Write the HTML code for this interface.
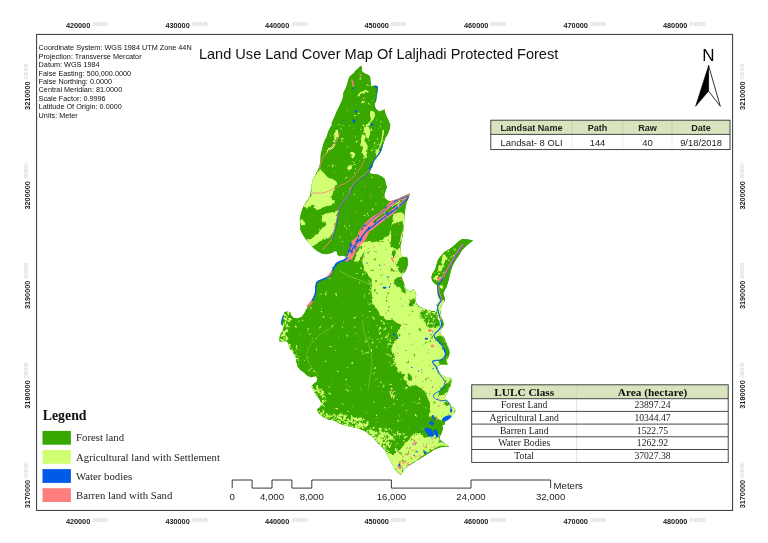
<!DOCTYPE html>
<html lang="en"><head><meta charset="utf-8"><title>Land Use Land Cover Map Of Laljhadi Protected Forest</title>
<style>html,body{margin:0;padding:0;background:#fff}body{width:768px;height:543px;overflow:hidden}svg{display:block}.s{font-family:"Liberation Sans", Arial, sans-serif}.t{font-family:"Liberation Serif", "Times New Roman", serif}.g{font-family:"Liberation Sans", Arial, sans-serif;font-weight:bold;font-size:7.3px;fill:#222}.gd{font-weight:bold;font-size:4.6px;fill:#d4d4d4}</style></head><body>
<svg width="768" height="543" viewBox="0 0 768 543">
<rect width="768" height="543" fill="#fff"/>
<g id="map">
<defs><filter id="rg" x="260" y="50" width="240" height="450" filterUnits="userSpaceOnUse"><feTurbulence type="fractalNoise" baseFrequency="0.22" numOctaves="2" seed="7" result="n"/><feDisplacementMap in="SourceGraphic" in2="n" scale="3.2" xChannelSelector="R" yChannelSelector="G"/></filter><filter id="rg2" x="260" y="50" width="240" height="450" filterUnits="userSpaceOnUse"><feTurbulence type="fractalNoise" baseFrequency="0.3" numOctaves="2" seed="3" result="n"/><feDisplacementMap in="SourceGraphic" in2="n" scale="1.6" xChannelSelector="R" yChannelSelector="G"/></filter><filter id="bl" x="260" y="50" width="240" height="450" filterUnits="userSpaceOnUse"><feGaussianBlur stdDeviation="0.45"/></filter><clipPath id="mc"><polygon points="360.4,66.1 361.7,66.7 361.9,71.3 364.3,73.2 367.5,74.5 370.1,76.5 370.5,81.0 371.0,86.2 374.7,85.6 377.9,86.2 377.9,88.9 377.3,92.8 376.6,96.7 376.2,100.6 375.3,102.5 374.7,105.1 375.3,107.7 377.3,110.3 379.9,111.6 382.5,110.3 384.7,109.4 385.1,112.3 386.4,116.2 388.4,120.1 389.7,123.4 390.3,125.1 389.6,128.9 387.9,134.1 385.3,138.0 384.0,141.9 382.7,145.8 381.4,150.4 379.4,154.3 376.8,157.6 374.2,160.8 372.9,164.1 372.3,167.3 370.3,169.9 370.6,170.0 369.3,173.3 372.6,173.9 377.8,174.6 381.7,176.5 384.9,179.1 385.6,183.0 386.9,186.9 385.6,190.8 384.3,194.7 384.9,198.0 387.5,200.6 390.1,201.2 394.7,199.9 399.9,198.0 405.1,195.4 409.7,193.4 409.0,197.3 407.1,201.2 405.8,205.2 405.1,210.4 404.5,215.6 404.1,220.8 403.8,226.0 403.2,231.2 402.5,236.4 401.5,240.1 402.8,230.0 402.1,235.2 401.5,240.4 400.8,245.6 400.6,250.8 401.5,255.4 404.1,257.3 406.7,256.7 408.0,259.9 407.7,265.2 406.7,269.1 404.7,272.3 402.1,274.3 401.5,276.9 402.8,280.1 404.1,283.4 405.4,287.3 407.3,290.5 410.6,291.2 413.2,289.2 414.9,291.2 416.2,294.5 415.8,297.7 415.2,300.1 416.5,303.3 419.1,306.5 423.0,308.5 426.9,309.8 431.4,311.1 436.0,311.1 437.3,307.8 436.6,304.6 438.6,302.0 440.5,300.0 439.2,299.0 437.9,295.1 437.3,289.9 437.0,285.3 434.7,283.4 432.1,280.8 431.4,276.9 432.7,273.0 435.3,269.1 436.6,264.5 437.9,259.9 441.2,255.4 445.1,251.5 449.7,248.9 454.2,245.6 458.1,241.7 462.0,238.9 468.5,239.4 473.1,240.4 469.8,243.0 465.9,246.3 462.0,250.2 459.4,254.7 456.8,258.6 454.2,262.6 452.3,266.5 451.0,270.4 449.7,274.9 449.0,278.8 447.7,283.4 446.4,287.3 444.5,290.5 443.2,293.8 444.5,297.1 445.1,300.1 442.5,303.9 441.2,307.8 440.5,312.4 441.2,316.9 443.2,321.5 443.8,325.4 441.8,328.6 439.9,331.9 441.2,334.5 443.8,337.1 445.8,341.0 447.1,344.9 449.0,348.8 449.7,353.4 448.4,357.3 446.4,360.5 447.7,364.5 445.1,365.1 439.9,365.1 437.3,366.4 437.9,370.1 439.9,372.6 442.5,375.2 446.4,377.8 451.0,377.8 451.6,380.4 451.0,384.3 449.7,388.2 447.7,392.1 445.8,395.4 444.5,398.6 447.1,400.6 449.7,403.2 451.0,406.5 453.6,407.8 455.5,410.4 454.2,413.0 452.3,414.9 451.0,417.5 447.7,420.1 445.1,421.4 444.5,424.7 442.3,425.2 442.9,429.1 441.6,433.0 439.7,436.9 440.3,440.2 442.9,442.1 446.2,444.1 449.2,446.7 444.9,446.7 440.3,447.3 435.1,449.3 429.9,452.6 424.7,455.8 419.5,459.1 414.3,462.3 409.1,465.6 404.5,468.8 402.6,472.1 401.0,475.3 398.0,472.7 394.7,468.8 392.1,464.3 389.5,459.1 386.9,454.5 385.0,449.9 381.8,447.1 378.5,443.8 375.3,439.9 372.0,436.6 368.1,433.4 364.2,430.8 359.0,428.8 353.8,427.5 348.6,426.2 343.4,424.9 338.2,423.0 334.3,420.4 329.1,419.7 325.8,418.4 321.2,415.8 318.0,412.6 317.3,409.3 320.6,406.7 321.2,402.8 319.3,398.9 316.0,395.0 313.4,390.4 311.5,386.5 314.1,383.3 316.7,381.8 317.3,377.9 315.4,376.0 311.5,377.3 307.6,376.0 304.3,372.7 300.4,370.1 297.8,366.9 296.5,362.3 295.9,357.8 293.9,353.9 292.0,350.6 290.0,349.3 288.0,343.4 286.0,340.8 282.8,341.4 279.5,341.4 279.5,337.5 280.8,333.6 282.8,330.4 283.4,327.1 281.5,323.9 282.1,319.9 283.4,315.4 284.7,312.1 288.0,311.5 290.6,312.8 291.2,315.4 293.9,318.0 297.8,318.6 301.7,316.7 304.3,313.4 306.2,309.5 308.8,305.6 311.4,302.4 313.4,298.5 315.3,293.9 316.0,290.0 315.8,286.5 316.7,282.6 319.3,280.6 323.2,279.3 327.8,277.3 330.4,274.7 332.3,270.8 334.3,266.9 336.2,263.7 339.5,261.7 343.4,260.4 347.3,257.8 343.4,255.5 340.1,256.2 337.5,254.9 336.9,251.6 334.9,251.0 331.7,252.9 326.5,254.2 321.9,253.6 318.0,251.6 314.1,248.4 310.8,245.1 307.6,241.2 305.0,238.0 302.4,234.1 300.2,229.5 300.4,225.6 299.8,221.0 300.2,217.1 301.1,213.2 302.4,209.3 303.7,206.1 305.6,202.8 308.2,198.9 310.4,195.0 310.8,191.2 311.6,185.0 312.9,179.8 315.5,174.6 318.1,169.9 319.7,165.2 320.5,160.0 320.8,154.3 322.1,149.1 323.2,144.5 324.7,140.6 326.7,136.7 328.0,132.2 329.9,128.3 331.9,125.0 331.7,122.7 334.3,117.5 336.3,112.3 338.2,108.4 340.8,103.2 342.8,98.0 343.4,92.8 345.4,89.1 346.7,85.6 348.0,81.0 349.3,77.1 351.9,74.5 354.1,73.0 354.9,71.3 357.8,68.7"/></clipPath></defs>
<g filter="url(#bl)">
<polygon points="360.4,66.1 361.7,66.7 361.9,71.3 364.3,73.2 367.5,74.5 370.1,76.5 370.5,81.0 371.0,86.2 374.7,85.6 377.9,86.2 377.9,88.9 377.3,92.8 376.6,96.7 376.2,100.6 375.3,102.5 374.7,105.1 375.3,107.7 377.3,110.3 379.9,111.6 382.5,110.3 384.7,109.4 385.1,112.3 386.4,116.2 388.4,120.1 389.7,123.4 390.3,125.1 389.6,128.9 387.9,134.1 385.3,138.0 384.0,141.9 382.7,145.8 381.4,150.4 379.4,154.3 376.8,157.6 374.2,160.8 372.9,164.1 372.3,167.3 370.3,169.9 370.6,170.0 369.3,173.3 372.6,173.9 377.8,174.6 381.7,176.5 384.9,179.1 385.6,183.0 386.9,186.9 385.6,190.8 384.3,194.7 384.9,198.0 387.5,200.6 390.1,201.2 394.7,199.9 399.9,198.0 405.1,195.4 409.7,193.4 409.0,197.3 407.1,201.2 405.8,205.2 405.1,210.4 404.5,215.6 404.1,220.8 403.8,226.0 403.2,231.2 402.5,236.4 401.5,240.1 402.8,230.0 402.1,235.2 401.5,240.4 400.8,245.6 400.6,250.8 401.5,255.4 404.1,257.3 406.7,256.7 408.0,259.9 407.7,265.2 406.7,269.1 404.7,272.3 402.1,274.3 401.5,276.9 402.8,280.1 404.1,283.4 405.4,287.3 407.3,290.5 410.6,291.2 413.2,289.2 414.9,291.2 416.2,294.5 415.8,297.7 415.2,300.1 416.5,303.3 419.1,306.5 423.0,308.5 426.9,309.8 431.4,311.1 436.0,311.1 437.3,307.8 436.6,304.6 438.6,302.0 440.5,300.0 439.2,299.0 437.9,295.1 437.3,289.9 437.0,285.3 434.7,283.4 432.1,280.8 431.4,276.9 432.7,273.0 435.3,269.1 436.6,264.5 437.9,259.9 441.2,255.4 445.1,251.5 449.7,248.9 454.2,245.6 458.1,241.7 462.0,238.9 468.5,239.4 473.1,240.4 469.8,243.0 465.9,246.3 462.0,250.2 459.4,254.7 456.8,258.6 454.2,262.6 452.3,266.5 451.0,270.4 449.7,274.9 449.0,278.8 447.7,283.4 446.4,287.3 444.5,290.5 443.2,293.8 444.5,297.1 445.1,300.1 442.5,303.9 441.2,307.8 440.5,312.4 441.2,316.9 443.2,321.5 443.8,325.4 441.8,328.6 439.9,331.9 441.2,334.5 443.8,337.1 445.8,341.0 447.1,344.9 449.0,348.8 449.7,353.4 448.4,357.3 446.4,360.5 447.7,364.5 445.1,365.1 439.9,365.1 437.3,366.4 437.9,370.1 439.9,372.6 442.5,375.2 446.4,377.8 451.0,377.8 451.6,380.4 451.0,384.3 449.7,388.2 447.7,392.1 445.8,395.4 444.5,398.6 447.1,400.6 449.7,403.2 451.0,406.5 453.6,407.8 455.5,410.4 454.2,413.0 452.3,414.9 451.0,417.5 447.7,420.1 445.1,421.4 444.5,424.7 442.3,425.2 442.9,429.1 441.6,433.0 439.7,436.9 440.3,440.2 442.9,442.1 446.2,444.1 449.2,446.7 444.9,446.7 440.3,447.3 435.1,449.3 429.9,452.6 424.7,455.8 419.5,459.1 414.3,462.3 409.1,465.6 404.5,468.8 402.6,472.1 401.0,475.3 398.0,472.7 394.7,468.8 392.1,464.3 389.5,459.1 386.9,454.5 385.0,449.9 381.8,447.1 378.5,443.8 375.3,439.9 372.0,436.6 368.1,433.4 364.2,430.8 359.0,428.8 353.8,427.5 348.6,426.2 343.4,424.9 338.2,423.0 334.3,420.4 329.1,419.7 325.8,418.4 321.2,415.8 318.0,412.6 317.3,409.3 320.6,406.7 321.2,402.8 319.3,398.9 316.0,395.0 313.4,390.4 311.5,386.5 314.1,383.3 316.7,381.8 317.3,377.9 315.4,376.0 311.5,377.3 307.6,376.0 304.3,372.7 300.4,370.1 297.8,366.9 296.5,362.3 295.9,357.8 293.9,353.9 292.0,350.6 290.0,349.3 288.0,343.4 286.0,340.8 282.8,341.4 279.5,341.4 279.5,337.5 280.8,333.6 282.8,330.4 283.4,327.1 281.5,323.9 282.1,319.9 283.4,315.4 284.7,312.1 288.0,311.5 290.6,312.8 291.2,315.4 293.9,318.0 297.8,318.6 301.7,316.7 304.3,313.4 306.2,309.5 308.8,305.6 311.4,302.4 313.4,298.5 315.3,293.9 316.0,290.0 315.8,286.5 316.7,282.6 319.3,280.6 323.2,279.3 327.8,277.3 330.4,274.7 332.3,270.8 334.3,266.9 336.2,263.7 339.5,261.7 343.4,260.4 347.3,257.8 343.4,255.5 340.1,256.2 337.5,254.9 336.9,251.6 334.9,251.0 331.7,252.9 326.5,254.2 321.9,253.6 318.0,251.6 314.1,248.4 310.8,245.1 307.6,241.2 305.0,238.0 302.4,234.1 300.2,229.5 300.4,225.6 299.8,221.0 300.2,217.1 301.1,213.2 302.4,209.3 303.7,206.1 305.6,202.8 308.2,198.9 310.4,195.0 310.8,191.2 311.6,185.0 312.9,179.8 315.5,174.6 318.1,169.9 319.7,165.2 320.5,160.0 320.8,154.3 322.1,149.1 323.2,144.5 324.7,140.6 326.7,136.7 328.0,132.2 329.9,128.3 331.9,125.0 331.7,122.7 334.3,117.5 336.3,112.3 338.2,108.4 340.8,103.2 342.8,98.0 343.4,92.8 345.4,89.1 346.7,85.6 348.0,81.0 349.3,77.1 351.9,74.5 354.1,73.0 354.9,71.3 357.8,68.7" fill="#38a800"/>
<g clip-path="url(#mc)">
<g filter="url(#rg)">
<rect x="250" y="40" width="260" height="470" fill="#38a800"/>
<polygon points="320.2,169.9 322.3,171.5 324.9,174.1 327.0,176.7 329.6,178.2 332.7,179.3 335.3,180.8 336.9,182.4 335.8,185.0 334.3,187.6 334.8,190.2 333.2,192.3 332.2,195.4 330.6,197.0 332.7,199.1 334.8,201.7 334.3,204.3 331.1,205.8 327.5,205.8 323.9,206.9 320.7,208.4 318.1,210.0 315.0,209.5 313.4,207.4 315.0,205.8 312.4,204.8 309.8,205.8 307.2,207.4 304.6,206.9 303.5,205.8 306.1,202.7 308.2,199.6 310.3,195.4 311.4,191.2 311.4,186.0 312.4,180.8 315.0,175.6 317.6,172.0" fill="#d1ff73"/>
<polygon points="322.3,215.6 325.4,213.5 329.6,213.0 333.8,211.5 336.9,210.4 337.4,214.6 336.9,218.8 335.8,222.9 334.3,227.1 333.2,231.2 331.7,234.4 329.6,236.5 326.5,238.0 323.3,239.1 320.2,241.1 317.1,243.2 314.5,245.3 312.4,246.4 309.8,244.8 307.7,241.7 307.2,239.1 310.8,238.0 315.0,235.9 318.1,233.3 320.2,230.2 322.3,228.1 325.4,226.0 326.5,224.0 324.9,222.4 322.3,221.9 321.8,218.8" fill="#d1ff73"/>
<polygon points="300.4,219.8 303.0,219.3 304.6,221.9 304.1,225.0 301.5,225.5 300.4,222.9" fill="#d1ff73"/>
<polygon points="356.2,246.0 361.5,240.8 364.6,242.1 368.8,242.6 374.0,242.1 379.2,241.0 383.3,239.0 387.5,235.8 389.6,232.7 390.6,229.6 391.7,225.4 392.2,221.2 392.7,218.1 393.8,214.5 396.9,212.7 401.0,212.2 403.6,213.8 404.7,215.8 404.5,215.6 404.1,220.8 403.8,226.0 403.2,231.2 402.5,236.4 401.5,240.1 402.8,230.0 402.1,235.2 401.5,240.4 400.8,245.6 400.6,250.8 401.5,255.4 404.1,257.3 406.7,256.7 408.0,259.9 407.7,265.2 406.7,269.1 404.7,272.3 402.1,274.3 401.5,276.9 402.8,280.1 404.1,283.4 405.4,287.3 407.3,290.5 410.6,291.2 413.2,289.2 414.9,291.2 416.2,294.5 415.8,297.7 415.2,300.1 416.5,303.3 419.1,306.5 423.0,308.5 426.9,309.8 431.4,311.1 436.0,311.1 437.3,307.8 436.6,304.6 438.6,302.0 440.5,300.0 443.2,300.0 442.5,303.9 441.2,307.8 440.5,312.4 441.2,316.9 443.2,321.5 443.8,325.4 441.8,328.6 439.9,331.9 441.2,334.5 443.8,337.1 445.8,341.0 447.1,344.9 449.0,348.8 449.7,353.4 448.4,357.3 446.4,360.5 447.7,364.5 445.1,365.1 439.9,365.1 437.3,366.4 437.9,370.1 439.9,372.6 442.5,375.2 446.4,377.8 451.0,377.8 451.6,380.4 451.0,384.3 449.7,388.2 447.7,392.1 445.8,395.4 444.5,398.6 447.1,400.6 449.7,403.2 451.0,406.5 453.6,407.8 455.5,410.4 454.2,413.0 452.3,414.9 451.0,417.5 447.7,420.1 442.5,421.0 438.6,419.2 436.0,417.1 432.1,414.9 430.1,415.8 428.8,414.9 429.5,410.4 430.1,405.2 428.8,400.6 426.9,396.0 424.9,391.5 421.7,388.2 418.4,386.9 415.8,383.7 413.2,385.6 409.9,386.9 406.7,383.7 404.7,379.1 403.4,374.6 399.5,372.6 396.9,370.0 395.6,363.8 394.3,358.6 392.4,353.4 391.1,348.2 393.0,344.3 395.6,340.4 398.2,336.5 396.9,331.2 399.5,329.3 401.5,324.7 398.2,323.4 394.3,321.5 391.1,319.5 387.8,320.2 383.9,318.2 380.0,315.0 377.8,310.1 375.8,307.7 373.2,303.8 371.9,299.9 371.9,294.7 371.2,289.5 371.9,284.9 371.2,280.4 369.3,276.5 366.7,272.6 364.1,268.0 362.8,263.4 362.8,258.2 364.1,253.0 364.7,247.8" fill="#d1ff73"/>
<polygon points="385.2,452.1 389.4,453.2 393.5,454.2 396.7,452.1 399.8,450.0 402.4,446.9 405.0,443.8 407.6,441.2 410.2,438.6 413.3,436.0 416.5,434.4 419.6,433.9 422.7,435.5 425.8,437.5 429.0,437.0 432.1,436.0 435.2,433.9 438.3,434.4 439.9,435.5 438.9,439.6 440.4,441.7 443.5,442.8 446.7,444.3 449.3,446.4 443.5,445.4 439.4,445.9 435.2,448.0 430.0,451.1 424.8,454.2 419.6,457.9 414.4,461.5 409.2,465.1 404.5,468.8 402.4,471.9 401.4,475.6 398.8,473.0 395.6,469.8 392.5,465.7 389.4,459.4 386.2,454.2" fill="#d1ff73"/>
<polygon points="442.5,256.5 445.1,254.9 446.7,257.5 444.6,261.7 442.5,264.3 440.9,262.7" fill="#d1ff73"/>
<polygon points="438.3,266.4 440.9,265.3 442.5,268.4 440.9,271.6 438.3,271.0" fill="#d1ff73"/>
<polygon points="439.4,285.6 442.5,285.1 443.0,288.2 440.4,289.3" fill="#d1ff73"/>
<polygon points="434.2,276.2 436.8,275.2 438.3,277.3 436.8,279.9 434.2,279.4" fill="#d1ff73"/>
<polygon points="370.0,113.5 372.1,111.5 374.2,113.5 375.2,116.7 373.6,119.3 371.0,121.9 369.0,125.0 366.9,128.1 365.3,131.2 364.3,133.3 363.2,132.3 364.8,128.6 366.9,125.0 369.0,121.4 370.5,118.2" fill="#d1ff73"/>
<polygon points="361.7,135.4 363.8,134.4 365.8,136.5 364.8,139.6 363.2,143.8 361.7,146.9 360.1,145.8 361.1,141.7" fill="#d1ff73"/>
<polygon points="382.5,130.2 384.1,131.2 383.5,135.4 382.5,139.6 381.5,143.8 379.9,149.0 378.3,153.1 376.8,155.2 375.7,154.2 377.8,150.0 379.9,144.8 381.5,139.6 382.2,134.4" fill="#d1ff73"/>
<polygon points="335.6,130.2 337.2,129.2 338.2,132.3 337.2,135.9 335.6,139.6 334.6,141.7 333.5,140.1 334.6,135.4" fill="#d1ff73"/>
<polygon points="326.2,151.0 329.4,147.9 332.5,145.8 334.6,143.8 335.6,144.8 333.0,147.9 329.9,150.5 326.8,153.1 324.7,155.2" fill="#d1ff73"/>
<polygon points="357.6,95.6 360.2,92.0 364.4,90.4 368.5,90.9 369.1,93.0 365.9,92.5 362.3,93.5 359.7,96.7" fill="#d1ff73"/>
<polygon points="361.2,102.4 362.8,100.3 364.9,99.8 363.9,101.9 362.1,103.4" fill="#d1ff73"/>
<polygon points="370.1,111.2 372.7,110.7 374.8,113.3 374.3,117.5 371.7,118.8 370.1,115.4" fill="#d1ff73"/>
<polygon points="335.2,132.8 337.8,132.2 339.1,135.4 337.8,138.7 335.4,138.0" fill="#d1ff73"/>
<polygon points="365.1,127.6 369.0,127.0 370.3,131.5 369.0,138.0 366.4,138.7 365.1,132.8" fill="#d1ff73"/>
<polygon points="361.8,141.9 365.1,141.3 367.7,145.8 367.1,152.3 365.8,158.9 363.2,158.2 362.5,151.0" fill="#d1ff73"/>
<polygon points="350.1,152.3 352.7,151.7 355.3,153.4 354.7,157.6 352.3,158.2 350.8,156.0" fill="#d1ff73"/>
<polygon points="348.2,165.4 351.4,164.7 352.1,168.6 350.1,170.8 348.2,169.3" fill="#d1ff73"/>
<polygon points="375.5,149.7 378.8,149.1 380.7,152.3 379.4,156.2 376.8,156.9 375.8,153.0" fill="#d1ff73"/>
<polygon points="354.5,260.4 356.5,254.5 359.7,248.0 363.0,243.5 366.2,241.5 370.2,242.2 374.1,244.8 375.4,247.4 371.5,246.7 367.6,248.0 364.3,251.3 362.3,254.5 361.0,257.8 359.7,261.0 357.1,261.7" fill="#d1ff73"/>
<polygon points="391.4,225.9 396.3,223.1 402.5,221.1 403.2,228.7 401.1,235.6 399.7,242.5 400.4,246.6 396.3,248.7 392.8,248.0 390.7,243.8 391.4,236.9 390.7,231.4" fill="#38a800"/>
<polygon points="392.8,250.7 395.6,250.0 394.9,256.3 392.8,259.0 391.4,254.9" fill="#38a800"/>
<polygon points="399.3,258.5 402.4,257.0 406.0,256.2 407.9,258.0 407.9,262.7 407.3,267.9 405.5,271.6 402.4,273.6 399.8,272.6 398.2,269.5 397.7,266.4 395.6,265.3 395.1,263.8 397.2,262.7 398.8,260.6" fill="#38a800"/>
<polygon points="390.4,271.6 392.5,267.4 394.6,271.6" fill="#38a800"/>
<polygon points="394.1,279.9 396.7,277.8 400.3,276.8 402.4,278.3 403.4,281.5 404.5,285.1 402.4,286.7 404.5,288.8 406.0,291.4 405.0,293.4 402.4,291.9 400.8,289.3 398.2,286.7 395.6,285.1 394.1,282.5" fill="#38a800"/>
<polygon points="389.9,245.0 393.5,245.0 393.0,248.1 390.9,248.6" fill="#38a800"/>
<polygon points="393.0,251.2 395.6,251.8 395.6,254.4 393.0,254.4" fill="#38a800"/>
<polygon points="408.8,298.1 410.8,300.2 414.0,298.1 415.5,300.7 414.5,304.3 412.4,306.4 410.3,307.5 408.2,306.4 409.3,303.3 410.3,301.2" fill="#38a800"/>
<polygon points="419.2,315.3 421.2,312.7 424.4,310.6 428.5,311.6 432.7,312.7 436.9,311.6 437.9,315.8 439.0,320.0 440.0,324.1 439.0,327.2 435.8,328.3 432.7,327.2 430.1,328.3 427.5,326.2 425.4,323.1 423.3,320.0 420.2,317.9" fill="#38a800"/>
<polygon points="418.6,328.3 420.7,328.5 420.7,331.4 419.0,331.2" fill="#38a800"/>
<polygon points="441.8,316.9 443.8,322.1 443.8,326.0 441.8,328.0 441.2,322.1" fill="#38a800"/>
<polygon points="437.9,335.2 441.2,335.8 444.5,339.1 446.4,344.3 449.0,349.5 449.7,353.4 448.4,357.3 445.8,360.5 447.7,364.5 439.9,364.8 437.3,362.5 441.2,359.9 444.5,357.3 445.8,353.4 444.5,348.8 441.2,344.9 437.9,341.7 435.3,338.4" fill="#38a800"/>
<polygon points="441.2,388.2 445.1,384.3 449.0,381.1 451.0,380.4 450.3,385.6 447.7,390.8 444.5,394.1 440.5,395.4 437.9,394.7 437.3,392.8 439.9,390.8" fill="#38a800"/>
<polygon points="443.8,401.2 447.7,401.9 449.7,404.5 447.7,405.8 444.5,404.5" fill="#38a800"/>
<polygon points="406.7,373.3 409.9,373.9 412.6,378.5 411.2,381.1 408.0,379.1 406.7,375.9" fill="#38a800"/>
<path d="M347.0,421.8 347.3,421.1 348.9,420.6 349.3,421.1 349.5,421.9 347.9,422.1zM365.2,425.6 364.9,425.8 364.3,425.7 363.9,424.9 364.6,424.7 365.3,425.1zM380.3,432.3 379.6,432.2 379.1,431.3 379.4,430.5 379.8,430.9 380.6,432.0zM390.7,435.2 390.0,435.7 389.2,435.4 388.8,434.8 389.4,434.3 390.4,434.6zM391.6,439.4 389.9,439.3 389.0,438.4 389.5,437.1 390.9,437.2 391.4,438.2zM340.2,414.4 341.0,413.8 342.7,413.4 342.8,414.0 342.5,415.1 341.3,415.3zM368.7,423.5 367.8,423.9 367.3,423.6 366.9,422.8 367.4,422.5 368.2,422.8zM370.0,432.6 370.2,430.7 371.5,429.9 373.1,430.5 372.6,431.7 371.3,432.8zM378.8,442.5 378.4,441.4 379.2,440.2 380.8,439.9 381.3,440.9 379.4,442.8zM316.8,385.7 316.8,385.2 317.5,385.0 318.1,385.2 317.9,385.7 317.5,385.8zM361.5,428.8 361.7,427.8 362.5,426.9 364.0,427.3 364.1,428.1 362.4,429.4zM388.8,433.3 387.8,433.6 386.2,432.9 386.4,432.0 387.2,431.9 388.5,432.3zM322.6,395.1 322.0,393.8 322.4,392.5 322.8,391.8 323.9,392.4 323.7,394.4zM381.4,446.1 380.3,445.8 379.0,445.0 379.3,444.0 380.6,443.7 381.7,444.5zM390.3,447.2 389.0,447.4 388.5,446.4 388.3,445.5 389.6,445.8 390.1,446.5zM362.3,419.9 362.4,418.9 364.0,418.5 365.0,418.5 364.9,419.7 363.0,420.3zM356.3,419.2 355.6,418.7 356.2,417.9 356.4,417.3 357.1,418.0 356.8,418.9zM325.7,415.1 325.6,414.3 326.4,413.1 327.3,413.3 327.1,414.4 326.2,415.2zM392.7,439.9 391.1,439.4 389.7,437.9 390.2,436.7 391.8,437.2 392.5,438.4zM340.5,415.4 340.2,416.0 338.7,415.8 338.1,415.2 338.8,414.7 340.2,414.8zM325.3,416.0 324.4,416.3 323.5,415.8 323.5,415.0 324.4,414.5 325.4,415.1zM345.1,416.0 346.0,415.3 347.3,415.3 347.3,415.9 346.9,416.4 346.2,416.4zM366.8,423.0 366.0,422.7 366.8,420.4 367.4,420.8 368.1,421.2 367.6,422.7zM356.9,427.4 355.7,427.3 355.6,426.4 355.9,425.1 356.7,425.8 357.1,426.6zM336.8,422.0 336.2,421.1 337.6,419.9 339.2,419.5 339.1,420.9 337.8,421.8zM371.2,431.5 370.5,431.3 369.7,430.5 369.9,429.7 370.8,430.2 371.1,430.9zM388.4,445.1 387.6,445.3 386.8,444.6 386.8,443.5 387.8,443.6 388.4,444.2zM354.7,422.0 354.8,421.2 356.0,421.3 357.6,422.0 357.0,422.6 355.4,423.1zM350.6,420.9 350.5,419.8 351.8,418.5 353.0,418.7 352.7,420.3 351.8,421.3zM315.4,391.2 314.5,391.3 313.9,391.0 313.4,390.2 314.2,389.9 315.3,390.6zM355.4,419.8 354.7,420.0 352.9,418.6 353.3,416.9 354.3,417.3 355.5,418.4zM335.0,420.3 333.2,421.1 332.4,420.4 332.1,419.1 332.8,418.7 334.6,419.7zM357.1,419.8 356.3,420.3 354.4,419.7 354.0,418.4 355.1,418.0 357.2,418.6zM342.9,421.1 342.1,420.9 341.3,419.9 341.6,419.1 342.3,419.5 342.8,420.4zM367.6,432.5 367.0,432.4 366.1,432.0 365.8,431.2 366.7,430.9 367.6,431.4zM366.4,424.9 365.9,425.4 364.5,425.5 364.0,424.6 364.4,424.2 366.1,424.4zM341.4,418.4 340.4,418.7 339.1,418.2 339.0,416.9 339.6,416.5 341.4,417.0zM343.0,415.5 341.3,416.2 339.8,415.4 338.9,413.7 340.7,413.6 342.0,413.9zM342.0,424.2 341.9,423.7 342.6,423.2 343.1,423.3 343.0,423.8 342.4,424.2zM373.0,436.8 372.3,435.7 371.9,433.5 373.1,432.8 374.3,433.4 374.0,435.2zM321.8,415.1 321.0,414.3 321.0,413.4 321.5,412.9 322.5,413.4 322.3,414.7zM384.6,439.8 384.1,440.2 383.5,438.8 384.1,437.6 384.7,438.4 385.3,439.3zM314.5,391.4 314.9,390.4 315.6,389.4 316.1,389.8 316.3,390.3 315.5,391.2zM347.2,420.1 346.8,419.9 346.9,419.1 347.5,418.7 347.8,418.9 347.9,419.8zM357.2,428.8 356.2,428.6 355.7,426.9 356.4,426.2 357.2,426.7 357.6,427.7zM376.6,438.1 375.5,438.1 374.4,437.4 374.4,436.2 375.3,436.5 376.3,437.0zM357.1,421.0 357.0,420.5 357.9,419.6 358.6,419.7 358.8,420.3 357.9,421.0zM380.1,437.2 379.2,437.6 378.3,437.7 378.2,436.7 378.5,436.2 379.5,436.5zM374.3,434.0 373.6,434.4 372.9,433.6 372.9,432.6 373.4,432.6 374.2,433.4zM325.8,397.9 324.5,398.1 323.9,397.1 324.0,396.6 324.9,396.3 325.4,397.0zM373.1,433.0 373.0,432.5 374.0,432.1 374.4,432.5 374.3,432.9 373.8,433.1zM371.6,429.2 370.8,429.5 369.8,428.9 369.7,428.5 370.3,428.3 371.0,428.3zM338.8,417.9 338.3,418.1 337.7,417.3 337.6,416.6 338.1,416.4 338.9,417.4zM326.0,417.1 325.2,415.4 326.1,413.9 327.2,413.7 328.1,414.5 326.9,416.7zM355.6,427.3 354.8,426.9 355.2,425.0 356.6,424.1 357.4,425.7 357.0,426.7zM351.8,422.8 351.2,422.5 350.8,421.7 351.1,421.0 351.5,421.1 352.2,421.8zM319.6,415.3 320.1,413.9 320.5,413.2 321.7,413.4 321.4,414.3 320.5,415.0zM379.7,441.2 379.1,440.2 379.5,439.4 380.3,438.9 380.6,439.4 380.7,440.9zM388.6,450.9 388.4,451.9 386.5,451.2 386.3,450.7 386.8,449.9 388.2,450.2zM377.5,441.7 376.3,441.2 375.7,440.4 376.1,439.8 376.6,439.8 377.4,440.9zM330.4,416.9 329.6,416.7 329.4,416.2 329.4,415.0 330.2,415.2 330.7,416.4zM366.2,427.8 364.8,427.4 363.8,425.6 363.8,424.9 364.8,424.7 366.4,425.8zM337.4,418.6 337.3,419.1 336.0,418.9 335.5,418.4 336.4,417.7 337.3,418.1zM320.8,394.0 319.9,393.8 319.0,392.7 319.3,391.8 320.4,391.9 321.2,393.0zM354.1,422.8 352.9,423.2 351.7,422.6 350.9,421.4 352.2,421.2 353.7,421.6zM358.6,424.2 359.4,423.5 360.4,423.2 360.9,423.6 360.7,424.3 359.5,424.4zM386.9,440.4 386.9,439.5 387.7,438.9 388.9,439.1 388.5,440.3 387.8,440.9zM380.7,437.3 380.3,436.6 380.2,435.4 381.7,434.0 381.9,435.1 382.1,437.1zM383.7,433.6 383.1,434.0 381.8,433.1 381.5,432.0 382.5,432.1 384.0,432.9zM320.8,391.5 321.5,390.3 322.7,390.4 323.3,390.8 323.1,391.7 321.4,392.3zM378.0,443.0 377.5,442.1 377.6,440.5 378.7,440.2 379.4,441.2 379.0,442.0zM364.4,424.5 365.3,423.5 367.4,423.3 367.8,424.2 367.3,425.6 365.4,426.1zM322.6,411.0 322.4,410.2 322.9,409.6 323.9,409.6 323.8,410.1 323.4,410.8zM389.5,444.6 389.2,445.2 387.8,445.1 387.2,444.6 387.8,444.0 388.9,444.0zM343.4,425.7 342.8,424.8 345.3,423.7 346.1,424.1 345.8,425.2 344.3,426.7zM337.2,418.1 336.7,417.1 337.8,415.7 339.1,415.4 339.4,416.2 338.7,417.8zM361.9,424.8 361.1,424.4 360.3,423.6 360.5,422.4 361.5,422.8 362.1,423.6zM387.3,435.4 386.9,435.0 387.4,434.2 387.8,434.0 388.0,434.6 387.8,435.2zM320.5,406.0 320.5,405.1 320.9,404.7 321.7,404.3 321.9,405.2 321.3,405.7zM359.9,420.0 359.1,419.7 358.8,418.1 359.3,417.7 360.0,417.6 360.4,419.2zM346.1,427.1 345.7,426.1 346.2,424.5 347.0,423.3 347.9,424.2 347.5,426.7zM388.2,435.9 388.1,435.5 389.0,435.0 389.7,435.1 389.5,435.9 388.7,436.1zM333.0,418.4 333.5,417.7 334.4,417.4 335.2,417.7 334.5,418.4 334.1,418.8zM381.0,437.6 380.6,437.3 380.7,436.5 381.2,436.1 381.5,436.6 381.5,437.4zM323.1,405.6 321.7,404.8 321.0,403.1 321.5,402.6 322.9,402.6 323.7,404.2zM313.0,391.6 313.0,390.1 314.6,389.6 316.1,390.2 315.2,391.0 313.2,392.5zM331.2,416.9 331.2,416.0 332.0,415.1 332.8,415.3 332.9,416.0 331.9,417.0zM376.5,438.0 375.2,438.0 374.4,436.4 374.7,435.5 376.0,435.8 376.7,437.2zM390.8,448.5 389.0,447.7 388.3,447.0 389.0,445.1 390.4,446.0 390.6,447.1zM317.7,396.5 317.2,396.6 316.7,395.7 317.0,395.1 317.6,395.6 317.7,395.9zM324.1,407.2 323.8,406.3 324.2,405.0 324.7,404.5 325.1,405.8 324.9,406.6zM316.7,394.9 316.3,395.8 314.5,394.7 314.6,393.7 315.1,393.3 316.4,393.9zM350.5,427.0 349.8,426.8 349.2,425.8 349.6,425.0 350.5,425.1 350.7,426.2zM339.7,423.2 339.0,422.8 338.6,420.8 339.8,419.7 340.5,420.2 340.8,422.4zM380.1,439.0 378.8,439.4 377.7,437.8 377.4,436.4 379.0,436.6 379.9,437.6zM377.3,438.2 378.5,437.0 380.3,437.4 380.9,438.3 380.8,439.2 379.0,439.3zM380.4,437.1 380.9,435.5 382.1,434.7 383.0,434.8 383.0,436.2 381.8,437.3zM390.3,437.1 389.8,437.3 389.0,436.0 389.4,435.3 389.9,435.3 390.5,436.2zM317.6,388.2 316.9,387.7 316.3,386.7 316.9,385.8 317.5,385.8 318.2,387.3zM373.3,428.3 372.7,427.7 373.9,426.7 374.4,426.6 374.8,427.6 374.3,428.3zM368.1,425.3 367.4,426.0 366.4,426.2 365.7,425.2 366.6,424.2 367.9,424.6zM322.5,405.1 321.4,405.6 319.9,404.5 320.0,402.9 321.1,402.8 322.4,403.9zM391.2,438.3 390.1,438.0 389.8,436.3 390.4,435.4 391.4,435.7 392.2,437.6zM378.7,442.1 377.7,441.3 377.3,440.3 377.9,439.1 378.9,440.0 379.2,441.1zM366.9,431.1 367.2,430.2 367.9,429.5 368.6,429.8 368.6,431.0 367.8,431.1zM319.9,390.2 320.3,388.9 321.5,387.6 322.3,387.9 322.0,389.4 320.7,390.1zM356.8,425.1 357.0,424.3 358.3,424.3 359.1,424.8 358.2,425.6 357.6,425.5zM384.4,443.6 383.7,443.9 382.5,443.3 382.4,442.1 383.1,442.2 384.4,442.7zM317.9,390.1 317.2,391.2 315.9,391.0 315.0,390.2 315.8,389.4 317.1,389.5zM383.0,436.1 382.7,435.2 383.2,433.8 384.3,433.4 384.9,434.6 384.1,435.4zM381.3,441.6 381.0,440.7 382.2,438.8 383.4,439.1 383.2,440.0 382.1,441.7zM360.7,424.0 360.0,424.0 358.8,423.3 358.5,422.3 359.2,422.3 360.5,422.9zM377.2,433.5 377.2,432.8 377.6,432.3 378.5,432.0 378.3,432.7 377.7,433.3zM362.4,425.4 362.9,424.9 363.5,424.9 364.2,425.1 363.7,425.6 362.6,425.8zM378.8,431.2 379.6,430.3 380.5,430.2 381.7,431.0 381.0,431.6 379.2,431.8zM326.1,418.8 325.3,418.6 325.0,416.9 325.9,416.2 327.2,416.5 327.1,418.5zM374.8,432.7 374.2,433.3 372.2,433.2 372.2,432.6 373.0,431.5 374.4,432.2zM342.4,420.5 342.7,419.9 343.8,419.9 344.2,420.1 343.9,420.8 342.8,421.0zM382.9,436.5 381.6,436.9 379.0,435.9 378.8,434.7 380.9,434.2 382.6,434.9zM323.0,411.5 322.7,411.1 322.7,410.4 323.3,410.0 323.9,410.6 323.6,411.3zM317.6,390.3 316.9,390.9 315.7,390.5 315.3,389.8 315.7,389.5 316.6,389.4zM353.9,418.4 353.1,418.8 352.5,418.6 351.9,417.9 352.4,417.4 353.5,417.8zM323.2,413.6 322.3,412.9 323.1,411.6 324.3,410.8 324.5,411.6 324.0,413.7zM385.4,437.8 385.0,438.1 384.2,437.5 383.9,436.8 384.9,436.7 385.4,437.1zM386.4,437.6 385.3,438.6 384.4,438.3 383.9,437.5 384.6,436.6 385.6,436.9zM368.4,433.7 367.7,433.3 367.7,432.6 368.0,432.3 368.7,432.7 368.8,433.2zM358.6,426.2 359.0,425.1 360.1,424.2 361.3,424.1 361.2,425.2 359.8,426.5zM341.0,416.2 340.2,416.2 339.2,415.7 339.4,415.1 340.0,415.0 341.1,415.6zM319.5,390.5 318.8,390.1 318.7,389.1 319.1,388.5 319.7,389.2 320.0,389.9zM366.7,423.2 366.4,422.3 368.0,421.0 368.8,421.2 368.6,422.4 367.2,423.4zM381.9,437.9 381.1,438.7 379.4,438.9 379.0,438.1 379.7,437.6 380.9,437.5zM322.8,398.5 321.9,397.1 321.7,396.1 323.0,395.7 323.7,396.3 323.1,397.6zM322.4,395.8 321.6,395.8 320.0,394.9 319.9,393.0 321.2,393.2 322.5,394.4zM389.2,440.6 388.9,441.1 387.4,440.9 387.3,440.5 387.3,439.9 388.7,439.8zM374.8,434.6 373.7,434.3 372.9,433.2 373.2,432.3 374.4,433.0 374.9,434.0zM381.0,431.0 380.3,431.0 378.7,430.2 378.5,428.5 379.9,428.9 381.0,429.3zM317.1,388.1 316.3,387.4 315.8,386.2 316.3,385.5 316.9,386.0 317.4,387.0zM348.5,419.4 348.0,419.7 347.0,419.6 346.6,419.0 347.4,418.6 348.1,418.8zM354.6,424.0 353.8,423.4 353.9,421.6 354.7,421.2 356.1,421.7 355.9,423.5zM384.9,447.6 384.1,447.9 382.7,447.6 382.3,446.7 383.5,446.1 384.8,446.9zM313.9,390.3 313.3,390.5 311.5,389.4 312.0,388.8 313.4,388.2 314.3,389.4zM372.2,436.9 371.7,436.4 371.5,435.3 372.2,434.8 373.1,435.4 372.8,436.6zM380.2,440.4 380.1,439.5 380.0,439.0 380.8,438.4 381.1,439.3 380.9,440.0zM383.8,433.5 383.9,432.4 384.6,432.1 385.6,432.0 385.6,432.7 384.7,433.7zM387.7,429.7 386.4,430.4 385.2,430.2 384.5,429.4 385.0,428.2 386.9,428.7zM360.6,427.4 360.6,426.3 362.2,425.8 363.1,426.4 362.1,427.6 360.9,427.9zM335.1,417.4 334.7,417.1 334.7,415.8 335.4,415.5 336.0,416.3 335.7,416.9zM363.7,425.3 362.2,425.7 361.3,425.5 360.8,424.1 361.6,423.2 363.5,423.9zM385.2,447.3 384.1,447.3 382.8,446.0 382.7,444.9 383.4,444.6 385.1,445.8zM370.9,432.6 369.9,432.2 368.8,431.1 369.1,429.7 370.4,430.2 371.5,431.0zM360.4,426.0 360.7,425.5 361.8,425.1 362.7,425.5 362.2,426.3 360.9,426.3zM385.9,447.4 385.6,446.9 385.4,446.1 386.1,445.7 386.4,446.0 386.4,446.9zM355.5,421.1 355.2,420.3 356.2,418.7 357.6,418.2 357.6,419.8 357.2,421.3zM381.5,445.3 379.8,444.2 379.6,443.5 379.6,441.6 381.3,442.4 381.9,443.6zM321.9,394.0 321.8,393.1 321.9,391.7 322.8,390.7 323.8,392.0 323.3,393.5zM378.8,440.4 378.8,439.7 379.7,439.2 380.4,439.2 380.1,440.3 379.1,440.9zM316.6,412.4 317.1,411.6 318.5,410.6 319.0,411.1 318.9,412.0 318.1,412.6zM323.1,402.8 323.5,402.1 324.7,400.9 325.9,401.7 325.3,402.3 324.2,403.1zM386.8,435.5 385.7,435.7 384.3,434.1 384.5,433.0 385.9,433.4 386.7,434.5zM385.3,441.0 386.1,439.4 387.5,438.7 388.8,439.1 388.8,440.5 386.9,441.0zM355.4,420.0 355.2,419.0 355.4,418.0 356.8,417.1 357.0,418.1 356.5,419.5zM363.3,425.3 362.8,424.7 363.2,423.5 364.5,422.8 364.7,424.0 364.0,425.2zM372.5,433.6 371.0,433.7 370.3,432.7 369.5,431.7 371.3,431.1 372.7,432.3zM362.6,422.1 362.2,420.8 363.1,419.6 363.6,419.5 363.9,420.5 363.2,421.7zM348.5,422.2 349.0,420.8 350.0,419.8 350.9,419.9 350.8,421.2 350.0,421.9zM377.4,439.4 376.5,439.9 374.8,438.4 374.5,436.9 376.0,436.5 377.5,438.1zM358.0,420.5 357.5,420.1 357.9,418.7 358.8,417.8 359.1,418.3 359.3,420.0zM313.1,388.2 312.1,387.7 311.4,386.4 311.8,386.0 312.7,386.2 313.5,387.4zM327.1,417.3 327.1,416.8 327.9,416.0 328.7,416.1 328.6,417.1 327.4,417.6zM346.7,421.1 346.8,420.0 347.2,419.0 348.6,418.5 349.3,419.6 348.0,421.4zM361.4,419.5 360.7,419.8 359.9,419.3 360.0,418.7 360.7,418.6 361.5,419.1zM378.3,437.0 378.0,436.1 378.7,435.0 379.6,435.0 379.8,435.7 379.0,437.3zM372.8,439.9 372.8,438.5 374.1,437.1 375.2,437.2 375.0,438.4 374.3,439.8zM384.1,450.7 384.2,449.8 385.3,448.8 386.1,449.1 385.8,449.7 385.1,450.4zM324.5,401.1 323.7,401.9 321.9,401.3 321.9,400.4 322.2,399.9 324.1,400.1zM340.8,423.2 340.4,423.8 339.3,423.3 339.1,422.4 339.7,422.0 340.9,422.6zM381.5,432.0 382.2,431.1 383.2,430.4 384.2,430.9 383.9,431.9 382.8,432.7zM317.9,393.9 317.4,393.3 317.1,392.5 317.9,391.5 318.4,392.1 318.4,393.3zM347.5,426.6 346.6,426.1 346.0,424.6 346.4,423.9 347.5,424.4 348.3,425.6zM326.5,418.8 326.0,418.5 325.7,417.5 326.0,416.8 326.7,417.4 326.8,418.7zM363.0,427.1 362.8,427.4 361.1,427.1 361.2,426.7 361.9,425.9 362.8,426.4zM390.2,446.3 389.8,445.6 390.0,444.7 390.6,444.5 391.1,445.1 390.9,446.1zM335.2,415.8 334.2,415.8 333.2,415.2 333.4,413.5 334.3,413.4 335.5,415.0zM386.4,439.2 385.8,439.3 386.0,438.0 386.8,437.4 387.2,438.1 386.8,439.1zM319.7,389.5 318.3,389.4 316.7,389.1 316.3,388.0 317.5,387.7 318.5,388.0zM356.8,427.4 356.5,427.8 355.0,427.1 355.3,426.5 355.6,426.2 356.8,426.8zM386.8,445.7 385.8,444.3 386.0,442.9 386.5,442.3 387.5,442.5 387.7,444.4zM384.2,434.4 384.2,433.0 385.2,431.7 386.4,431.9 386.7,432.4 385.9,434.0zM361.1,426.7 360.6,426.0 360.6,424.2 361.6,424.2 362.0,424.4 362.2,426.2zM328.1,417.0 329.4,415.9 330.6,415.5 331.6,415.9 330.9,416.8 329.0,417.6zM325.5,401.8 324.7,401.3 325.0,400.5 326.0,400.0 326.4,400.5 326.3,401.5zM374.8,434.5 374.4,434.8 373.7,433.1 373.8,432.5 375.0,432.8 375.2,433.9zM358.6,425.9 358.7,424.8 360.6,423.9 361.4,424.8 360.8,425.9 359.8,426.4zM354.9,428.2 355.3,427.4 356.0,427.3 357.1,427.6 356.7,428.5 355.4,428.7zM378.7,430.6 378.7,429.8 379.9,429.4 380.0,429.8 380.0,430.4 379.4,430.7zM321.4,414.2 320.6,414.0 319.5,413.1 320.0,412.7 320.4,412.5 321.6,413.2zM375.8,434.4 375.7,433.9 376.0,433.3 376.8,433.1 376.9,433.7 376.5,434.3zM390.5,440.1 390.0,439.6 389.8,438.8 390.2,438.4 390.8,438.7 391.0,439.6zM375.6,433.9 374.8,432.8 375.1,432.0 376.1,431.5 376.7,431.6 376.3,433.5zM370.4,433.8 369.6,432.8 369.2,431.0 370.3,429.3 371.5,430.9 371.4,433.0zM346.1,417.1 345.6,417.9 343.4,417.6 343.1,416.1 344.0,415.8 346.0,416.2zM352.4,419.2 351.0,418.6 350.6,417.5 351.1,416.0 352.2,416.4 352.8,418.6zM337.1,422.8 336.6,421.7 336.7,420.9 337.6,420.6 338.2,420.9 337.6,422.8zM364.3,426.5 364.2,426.0 365.1,425.7 365.5,426.0 365.2,426.6 364.4,426.8zM318.4,393.3 317.7,391.8 317.9,390.6 318.7,389.9 319.3,390.3 319.6,392.0zM321.9,397.5 322.2,396.6 322.9,396.6 323.5,396.8 323.1,397.5 322.2,397.7zM388.2,435.8 387.2,435.9 386.6,434.9 386.4,434.1 387.2,433.6 388.8,435.0zM374.0,433.8 375.4,432.7 377.2,432.6 377.4,433.9 377.4,434.5 375.1,434.4zM381.6,435.5 381.1,435.9 380.1,435.4 380.2,434.5 380.7,434.3 381.5,435.0zM324.2,399.5 324.0,398.9 325.0,398.5 325.4,398.6 325.3,399.2 324.8,399.5zM343.3,419.5 342.7,418.6 344.4,417.5 345.8,418.2 345.5,419.0 343.9,420.2zM351.6,428.1 351.1,427.0 352.2,425.8 352.9,425.7 353.2,426.9 352.7,428.1zM368.0,423.9 367.3,424.7 365.5,424.3 365.3,423.5 365.7,422.9 367.2,423.1zM357.8,429.2 357.0,427.9 357.3,426.4 358.5,426.2 359.7,426.9 358.8,429.2zM361.9,419.1 361.0,419.1 360.4,418.0 360.6,417.4 361.5,417.5 362.0,418.1zM360.7,421.5 360.0,420.4 360.5,419.0 361.1,418.9 361.6,419.1 361.5,420.7zM349.1,424.0 347.8,424.3 345.9,423.1 345.9,421.3 347.1,421.6 348.8,423.1zM341.4,420.3 340.8,420.2 340.2,419.0 340.7,418.3 341.3,418.2 341.7,419.4zM335.9,421.3 335.4,420.9 335.9,419.7 336.3,419.8 336.7,420.5 336.3,421.4zM381.7,436.4 380.4,436.0 380.5,434.5 381.2,434.1 381.9,434.3 382.3,435.7zM373.9,428.8 373.2,429.0 372.3,428.0 372.6,427.6 373.3,427.7 373.8,428.3zM360.4,424.6 359.5,424.7 358.4,422.5 358.9,421.3 360.1,422.1 361.1,424.0zM368.3,423.3 367.8,423.5 366.5,422.9 366.8,421.8 367.7,421.3 368.2,422.2zM343.2,422.2 343.9,421.2 345.0,421.2 346.3,421.4 345.2,422.5 344.1,422.9zM354.4,428.1 354.9,427.2 355.9,426.7 356.3,427.1 356.0,428.1 355.2,428.5zM360.3,419.4 359.8,418.8 360.5,417.6 361.1,418.0 361.6,418.3 361.2,419.4zM385.6,432.2 384.3,433.4 383.2,433.3 382.3,432.2 382.4,431.2 384.4,431.5zM379.9,440.2 378.8,440.5 378.2,439.8 377.7,438.5 378.9,438.9 380.0,439.5zM365.8,432.4 366.3,432.0 367.3,431.7 367.7,432.3 367.0,433.1 366.1,433.0zM380.0,433.2 379.5,432.5 380.4,431.5 381.5,431.6 381.5,432.6 381.0,433.3z" fill="#d1ff73"/>
<path d="M288.5,344.6 288.0,344.1 288.7,343.1 289.3,343.0 289.5,343.5 289.2,344.4zM285.4,332.2 285.7,331.5 286.5,330.9 286.7,331.2 286.7,331.7 286.0,332.1zM287.1,333.2 286.3,332.6 287.1,331.2 287.6,331.2 288.3,332.0 287.9,332.8zM285.6,337.8 285.7,336.6 286.6,336.0 287.8,335.9 287.7,336.8 286.7,337.7zM283.8,327.8 282.7,327.2 282.8,325.2 283.6,323.7 284.2,324.6 284.4,326.6zM298.8,361.2 298.2,360.5 298.3,359.9 298.7,359.4 299.2,359.6 299.0,360.7zM289.1,346.4 288.8,345.6 289.2,345.0 290.1,345.0 290.5,345.5 289.7,346.4zM296.4,359.4 296.7,358.2 297.4,357.7 298.4,357.7 298.6,358.2 297.2,359.6zM287.3,318.0 286.6,317.6 286.2,316.9 286.6,315.9 287.1,316.1 287.8,317.0zM287.8,321.7 287.7,320.7 287.9,320.1 288.6,319.8 289.2,320.4 288.5,321.6zM282.3,336.0 281.5,334.7 282.0,333.7 283.3,333.2 283.9,334.2 283.0,335.9zM286.3,319.2 285.4,319.4 284.4,318.5 284.3,317.7 285.7,317.9 286.4,318.3zM287.7,331.3 287.3,331.2 286.7,329.8 286.8,329.3 288.1,329.8 288.4,330.7zM283.9,319.7 284.3,318.6 285.4,317.9 287.0,317.8 286.5,319.0 285.4,319.7zM286.9,337.7 286.9,336.9 287.8,336.1 288.2,336.2 288.5,337.0 287.6,337.7zM288.0,322.8 288.1,322.2 288.9,321.0 289.9,321.4 289.5,322.4 289.0,323.1zM284.9,331.1 285.1,329.9 286.4,329.5 287.8,329.7 287.6,330.8 285.3,331.9zM285.6,332.7 284.9,333.3 283.5,332.7 283.2,332.0 284.4,331.4 285.4,331.8zM283.7,331.9 282.8,332.0 282.1,331.6 282.0,330.8 282.9,330.8 283.6,331.4zM283.8,334.2 282.6,334.4 281.7,333.1 282.2,331.9 283.3,332.4 283.9,333.3zM283.3,338.4 283.4,337.4 284.0,336.9 285.3,336.5 285.4,337.3 284.1,338.3zM285.9,325.2 285.5,325.1 285.0,324.5 285.4,323.8 286.1,324.0 286.1,324.7zM295.3,356.2 295.8,355.2 296.9,355.0 297.6,355.6 296.7,356.5 295.9,356.6zM288.2,331.8 286.9,332.7 285.5,332.1 285.1,330.9 286.4,330.6 287.8,330.9zM282.4,332.8 282.6,331.4 284.1,330.7 284.7,331.0 284.7,331.7 283.4,332.7zM297.1,359.9 296.3,360.2 295.2,359.2 295.6,358.5 296.4,358.5 296.9,359.0zM281.6,336.8 280.8,336.6 280.8,335.2 281.2,334.8 281.8,335.4 282.3,336.1zM282.7,318.2 283.2,317.5 284.2,317.5 284.5,317.8 283.9,318.3 282.9,318.5zM284.6,322.9 283.6,323.3 282.9,323.0 282.6,322.4 283.4,322.0 284.1,322.4zM283.1,335.7 282.5,335.6 282.1,334.5 282.7,333.9 283.2,334.3 283.6,335.1zM290.8,321.1 289.7,321.0 289.3,319.8 289.0,318.9 290.5,319.2 290.9,320.4zM285.8,339.4 285.1,339.7 283.3,338.2 283.9,337.5 284.5,337.1 285.7,338.3zM285.5,323.8 285.0,323.2 284.1,321.6 285.3,321.0 286.2,320.8 286.2,322.4zM281.5,342.3 281.3,340.9 283.2,339.1 283.6,339.7 284.2,341.0 283.1,342.0zM291.6,354.0 292.3,353.3 293.3,353.1 294.0,353.4 293.5,354.4 292.6,354.4zM286.8,327.8 286.4,327.5 287.3,326.6 287.7,326.5 287.9,327.1 287.5,327.7zM286.6,316.0 284.8,316.3 284.0,315.5 283.3,314.0 284.6,314.1 286.0,314.7zM289.7,319.3 289.3,319.6 288.3,319.1 288.1,318.3 288.9,317.7 290.1,318.6zM282.8,333.1 282.3,332.8 282.4,332.1 282.6,331.4 283.2,332.0 283.3,332.8zM284.2,336.5 283.3,336.3 283.2,334.8 284.4,334.0 284.9,334.4 284.8,336.0zM287.3,345.8 287.6,344.4 290.0,344.1 291.0,344.7 290.4,345.7 288.6,346.2zM291.9,320.0 290.5,320.3 289.2,319.2 288.5,318.1 289.9,318.1 291.2,318.4zM282.7,324.2 283.0,323.4 284.1,323.3 284.3,323.8 284.1,324.3 283.1,324.5zM283.8,325.7 283.6,325.5 283.3,324.5 283.9,324.3 284.5,324.7 284.4,325.4zM287.1,319.6 286.2,320.3 284.7,319.9 284.2,319.1 284.7,318.3 286.7,318.5zM285.7,340.4 285.3,339.2 286.9,337.8 288.2,338.5 288.0,339.8 287.0,340.3zM286.3,328.2 285.7,327.0 287.3,325.1 288.1,325.6 288.1,326.8 287.4,328.2zM284.2,336.4 283.8,335.2 284.3,334.4 285.7,334.2 285.6,335.4 285.3,336.3zM285.6,319.0 284.6,319.2 283.7,318.5 282.9,317.4 284.2,317.0 285.4,317.6zM287.2,327.4 287.8,326.6 289.0,326.1 289.8,326.5 289.7,327.3 288.0,327.8zM282.3,340.7 281.4,340.7 280.2,340.1 280.3,338.6 281.6,338.9 282.4,339.2zM287.2,326.6 286.2,326.4 286.2,325.2 286.9,324.4 287.7,324.7 287.8,325.9zM288.7,343.5 288.0,343.9 286.9,342.8 286.9,342.2 287.8,342.1 288.5,343.0zM295.0,356.8 294.2,356.3 293.7,355.6 294.1,354.4 294.8,355.2 295.2,356.4zM294.4,355.9 294.8,355.1 295.5,354.5 296.4,354.9 296.2,355.8 295.0,356.3zM288.7,314.9 287.5,314.4 287.3,312.2 288.3,311.2 289.4,311.8 289.5,314.4zM291.8,351.7 291.2,351.0 291.1,350.0 292.0,349.2 292.5,350.2 292.6,351.3zM294.8,355.8 294.0,355.7 293.1,354.5 293.2,353.9 294.2,353.8 294.8,355.1zM286.1,331.8 286.2,331.2 286.9,331.0 287.5,331.2 287.2,331.7 286.4,332.1zM281.8,337.0 281.2,336.3 281.0,335.5 281.7,335.2 282.5,335.7 282.4,336.4z" fill="#d1ff73"/>
<path d="M377.5,347.6 376.8,347.5 376.1,347.1 376.1,346.2 376.8,346.2 377.2,346.6zM355.8,273.6 355.9,273.1 356.9,272.9 357.4,273.2 357.0,273.6 356.3,273.8zM394.1,405.1 393.6,404.2 393.9,403.1 394.4,403.1 394.8,403.7 394.4,404.9zM356.4,350.4 355.7,349.7 356.0,348.9 356.5,348.0 357.1,348.7 356.8,349.7zM382.3,387.1 383.2,385.9 384.4,385.7 384.7,386.2 384.2,387.0 383.7,387.5zM321.9,309.0 321.3,308.9 321.3,308.3 321.4,307.8 321.9,308.1 322.0,308.6zM405.5,411.0 406.0,410.3 406.6,410.1 407.0,410.5 407.1,411.1 406.4,411.3zM377.8,422.9 377.7,422.1 377.7,421.8 378.1,421.4 378.5,421.6 378.2,422.4zM362.7,316.0 362.3,315.9 362.4,315.3 362.7,314.7 363.1,315.2 363.0,315.6zM321.2,391.1 320.8,391.0 320.5,390.7 320.8,390.4 321.0,390.4 321.4,390.9zM329.4,392.3 328.8,391.4 328.7,390.8 329.2,390.6 329.8,390.6 329.7,391.9zM378.1,340.1 377.8,339.9 377.6,339.1 378.3,338.6 378.5,339.1 378.5,339.8zM296.3,348.1 295.8,347.4 295.8,346.2 296.5,345.8 297.1,346.1 297.1,347.4zM329.8,313.4 329.4,313.5 329.3,312.7 329.3,312.3 329.8,312.7 330.1,313.1zM313.6,371.4 313.1,371.4 312.8,370.8 312.7,370.3 313.1,370.0 313.7,370.6zM421.4,392.2 420.7,392.8 420.2,392.9 419.7,392.4 420.0,391.7 420.8,392.0zM399.6,416.6 399.3,416.3 399.3,415.7 399.7,415.5 399.9,415.8 399.9,416.3zM393.5,403.7 393.1,403.7 392.7,403.4 392.6,403.1 392.9,403.0 393.4,403.4zM293.7,353.8 293.4,353.6 293.8,352.9 294.1,352.9 294.3,353.4 294.0,353.8zM391.1,356.1 390.8,356.7 389.6,356.3 389.2,355.6 389.6,355.1 391.3,355.6zM397.2,433.4 396.6,432.6 397.2,431.8 397.6,431.1 398.4,431.8 398.0,433.0zM396.6,399.8 396.6,399.3 397.5,399.0 397.7,399.2 397.8,399.7 397.2,400.0zM345.2,380.0 345.2,379.4 346.0,378.8 346.7,378.8 347.0,379.3 345.9,380.4zM391.0,397.7 391.2,397.2 392.1,397.1 392.2,397.5 391.9,398.1 391.3,397.9zM338.1,417.8 337.6,417.3 337.6,416.3 338.0,416.2 338.6,416.6 338.4,417.4zM408.3,430.1 407.9,430.3 407.3,430.1 407.2,429.8 407.5,429.4 408.1,429.5zM333.2,381.5 332.7,381.5 332.4,381.1 332.8,380.7 333.2,380.8 333.4,381.3zM377.1,379.2 376.7,378.9 376.3,378.3 376.4,377.8 377.1,378.0 377.4,378.6zM297.6,349.4 296.9,349.6 296.2,349.3 295.6,348.3 296.4,348.4 297.3,348.8zM343.8,404.2 343.4,404.5 342.7,404.0 342.2,403.0 343.1,402.9 343.7,403.4zM337.1,408.8 336.5,409.0 335.7,408.8 335.3,408.3 335.9,408.0 336.5,408.1zM381.4,383.3 380.8,383.3 380.1,382.0 380.5,381.7 381.2,381.6 381.6,382.7zM345.8,390.3 345.5,389.9 345.8,389.1 346.4,388.6 346.6,389.4 346.4,389.9zM378.5,341.5 378.2,340.9 379.0,340.3 379.7,340.1 379.4,341.1 379.0,341.7zM308.2,330.6 307.9,330.0 308.3,329.2 308.8,329.2 308.9,329.9 308.6,330.4zM347.2,384.5 346.9,384.5 346.4,384.1 346.4,383.7 346.8,383.7 347.2,384.1zM388.4,334.3 387.4,334.2 387.4,333.0 387.7,332.6 388.5,332.8 388.6,333.6zM377.0,415.9 376.4,416.1 375.8,415.4 375.8,414.6 376.4,414.5 377.3,415.6zM321.1,295.0 320.5,294.3 320.3,293.6 320.5,292.5 321.3,293.4 321.8,294.5zM350.7,390.4 350.8,389.7 351.2,389.5 351.9,389.5 351.8,389.9 351.4,390.4zM328.9,279.7 328.6,278.6 329.0,278.0 329.6,277.8 330.0,278.3 329.5,279.1zM307.7,333.6 307.3,333.6 307.0,333.1 306.9,332.6 307.3,332.6 307.8,333.2zM352.6,406.5 352.5,405.9 353.0,405.1 353.5,405.1 353.5,405.9 353.1,406.3zM393.5,336.3 393.1,335.8 393.2,335.3 393.7,335.0 394.0,335.2 393.9,335.9zM426.3,408.4 425.6,408.3 425.0,407.8 425.1,407.5 425.6,407.3 426.4,407.9zM370.3,430.6 369.9,430.9 369.0,430.9 369.0,430.5 369.2,430.0 370.0,430.1zM308.6,371.3 308.6,370.1 309.3,369.3 309.7,369.4 309.9,370.3 309.5,370.7zM310.8,369.3 310.5,368.6 310.9,367.9 311.4,367.8 311.6,368.2 311.5,368.9zM364.2,411.2 363.8,411.0 363.9,410.5 364.1,410.2 364.4,410.5 364.5,411.0zM402.0,404.3 402.1,403.7 403.5,403.2 404.0,403.5 403.7,404.3 402.6,404.8zM336.3,409.8 336.4,409.3 336.9,408.6 337.4,408.8 337.5,409.4 336.9,409.6zM303.7,360.5 304.1,360.1 304.7,359.9 304.9,360.4 304.6,360.7 303.9,360.9zM356.5,334.4 356.0,334.4 355.5,334.1 355.5,333.5 356.1,333.7 356.4,333.9zM355.2,328.1 354.8,328.0 354.2,327.3 354.4,326.6 354.9,326.7 355.5,327.6zM368.6,304.9 368.5,304.5 368.7,304.2 368.9,304.1 369.1,304.5 369.0,304.9zM384.7,408.5 384.8,407.9 385.5,407.3 385.9,407.4 385.8,407.9 385.3,408.5zM307.9,357.6 307.8,357.4 307.6,356.7 307.9,356.3 308.3,356.9 308.4,357.7zM303.4,321.3 302.6,321.3 302.1,320.0 302.6,319.1 303.6,319.8 303.9,320.7zM368.2,332.8 367.8,332.4 368.3,331.8 368.7,331.7 368.9,332.1 368.5,332.8zM289.1,347.5 289.8,346.7 290.3,346.6 291.5,347.0 291.0,347.6 289.6,347.9zM347.8,391.8 347.0,390.8 347.1,389.8 347.7,389.6 348.5,390.0 348.4,391.2zM295.5,327.7 295.0,327.0 295.4,325.6 295.8,325.3 296.4,325.8 296.4,327.0zM386.5,436.9 385.9,437.2 385.0,437.4 384.5,436.5 384.9,436.1 386.1,436.5zM397.1,421.4 397.7,420.9 398.5,420.9 399.0,421.6 398.5,421.7 397.6,421.9zM366.3,342.3 365.6,342.3 364.9,341.2 364.9,340.6 365.9,340.8 366.4,341.5zM328.7,347.6 328.9,346.8 329.6,346.2 330.6,346.3 330.5,347.2 329.6,347.8zM300.1,321.4 299.1,321.6 298.4,321.2 298.4,320.3 299.2,320.2 299.7,320.7zM338.0,306.1 338.1,305.7 338.5,305.6 338.9,305.6 338.8,306.0 338.4,306.2zM325.2,361.7 324.3,361.9 323.7,361.1 323.8,360.5 324.2,360.4 325.4,361.2zM382.5,392.0 382.4,392.1 381.9,392.1 381.7,391.7 382.1,391.6 382.4,391.6zM373.0,339.7 372.1,339.2 372.2,338.6 372.4,337.8 372.9,337.9 373.3,339.0zM417.2,415.3 416.2,415.8 415.3,415.1 414.6,414.2 415.6,413.8 416.7,414.5zM336.4,297.6 335.9,296.9 335.8,295.5 336.2,294.8 337.0,295.3 336.9,296.9zM323.4,318.0 322.7,317.1 322.8,316.0 323.3,316.0 324.3,316.5 323.9,317.7zM299.4,356.6 298.9,356.9 298.5,356.7 298.2,356.4 298.7,356.1 299.3,356.3zM368.7,311.7 369.5,311.0 370.6,311.0 370.9,311.5 370.2,312.0 369.5,312.2zM387.5,335.5 387.5,335.1 388.1,334.6 388.6,334.6 388.5,335.2 388.1,335.8zM295.3,350.3 295.5,350.1 295.9,350.1 296.2,350.3 296.1,350.6 295.7,350.7zM373.6,343.7 372.7,343.7 371.6,342.6 371.7,342.0 372.5,341.6 373.7,342.6zM414.8,402.7 414.4,402.9 413.8,402.4 413.6,401.8 414.3,402.0 414.7,402.3zM374.7,437.1 374.5,437.3 374.0,437.2 373.7,437.0 374.2,436.7 374.7,436.7zM320.4,311.8 320.8,311.3 321.8,310.9 322.1,311.1 322.4,312.0 321.4,312.2zM323.4,392.4 323.1,392.0 322.6,391.5 322.9,391.3 323.4,391.2 323.5,391.7zM364.8,270.3 364.7,270.5 364.2,270.4 363.9,270.0 364.2,269.8 364.9,270.0zM293.8,351.5 292.8,352.3 291.9,352.0 291.1,351.5 292.0,351.0 293.3,351.1zM382.0,443.0 382.1,442.3 382.2,441.8 382.7,441.7 383.2,442.0 382.9,442.8zM367.8,325.2 368.0,324.9 368.6,324.7 369.0,324.8 368.9,325.2 368.5,325.3zM309.7,334.3 309.8,333.4 310.3,333.2 311.1,333.0 311.1,333.7 310.3,334.2zM397.2,434.5 397.1,433.9 397.7,433.7 398.3,433.7 398.4,434.4 397.5,434.9zM312.9,338.9 312.9,338.6 313.2,338.1 313.6,338.1 313.7,338.3 313.4,338.9zM369.4,291.2 369.3,290.8 370.1,289.6 370.8,289.9 371.0,290.5 370.2,291.4zM351.0,422.5 350.9,422.2 351.1,421.5 351.5,421.4 351.6,421.5 351.5,422.4zM393.8,440.7 393.4,440.3 394.5,439.5 395.0,439.9 394.7,440.4 394.3,440.8zM360.3,282.9 359.9,283.0 359.3,282.7 359.3,282.3 359.6,282.3 360.1,282.5zM371.8,351.2 371.3,350.9 370.9,350.5 371.0,350.1 371.6,350.2 371.8,350.7zM328.4,393.7 329.0,393.1 330.1,393.0 331.0,393.5 330.3,394.4 329.3,394.2zM325.0,295.6 324.9,294.2 325.2,293.4 326.1,293.4 326.8,293.8 326.0,295.1zM371.5,351.1 371.0,350.0 371.2,349.3 371.7,349.0 372.3,349.5 372.2,350.1zM401.4,420.0 401.2,419.7 401.3,419.2 401.8,419.0 402.0,419.4 401.7,419.8zM357.7,341.9 357.8,341.4 358.2,341.3 358.7,341.5 358.4,341.7 358.1,342.1zM326.5,293.2 326.3,292.9 326.3,292.4 326.7,292.2 326.8,292.5 326.9,293.0zM336.8,307.5 336.9,306.8 337.3,306.4 337.8,306.5 337.9,307.0 337.6,307.4zM347.8,368.6 347.0,368.1 346.8,367.4 347.1,366.6 347.7,367.3 347.8,368.1zM299.9,334.1 299.8,333.6 300.0,333.3 300.4,333.0 300.7,333.5 300.4,333.9zM350.1,273.9 349.7,274.1 349.4,274.1 349.0,273.6 349.5,273.4 350.0,273.5zM418.9,400.5 419.2,399.7 420.3,399.1 421.2,399.6 420.9,400.6 419.7,400.7zM339.6,419.0 339.7,418.4 340.1,418.0 340.7,418.0 340.6,418.6 340.1,419.1zM299.2,364.2 298.3,364.1 297.5,363.7 297.8,363.4 298.3,363.2 298.9,363.4zM315.1,371.8 314.5,372.1 313.9,371.2 313.9,370.7 314.4,370.6 315.1,370.9zM300.9,350.6 300.4,350.4 300.3,350.0 300.5,349.5 300.9,349.9 301.0,350.5zM376.5,417.6 376.3,417.7 375.9,417.5 375.8,417.2 376.1,417.0 376.5,417.3zM335.3,294.7 335.3,293.8 335.8,293.1 336.7,292.7 336.7,293.9 336.1,294.7zM393.6,359.6 393.1,359.6 393.0,358.3 393.5,357.7 394.1,358.1 394.4,359.1zM394.7,437.9 395.1,437.5 395.9,437.4 396.0,437.8 395.8,438.0 395.1,438.2zM330.8,318.9 330.5,318.5 330.3,317.7 330.7,317.3 331.2,317.6 331.1,318.5zM367.7,413.1 367.4,413.1 366.6,412.3 366.8,412.0 367.3,412.2 367.8,412.7zM372.4,373.9 372.8,373.4 373.3,373.3 373.8,373.7 373.7,374.2 372.7,374.2zM365.7,384.4 365.5,384.7 364.9,384.7 364.3,384.3 365.0,383.9 365.7,384.0zM374.7,368.4 374.6,367.6 375.7,367.0 376.2,367.3 376.0,368.3 375.5,368.6zM338.7,338.0 338.4,337.5 338.4,336.6 338.8,336.3 339.1,337.0 339.2,337.3zM379.3,328.8 379.8,328.1 380.7,327.6 381.5,328.1 381.2,329.0 380.4,329.0zM366.6,353.4 366.3,352.4 366.8,351.7 367.6,351.4 367.8,352.0 367.2,353.4zM362.7,354.5 362.5,353.8 362.6,353.1 363.3,352.7 363.8,353.3 363.4,354.0zM406.4,390.3 405.5,390.0 405.5,389.4 405.6,388.2 406.4,388.6 406.9,389.5zM344.4,323.6 343.7,323.6 342.9,323.0 342.7,322.4 343.7,322.4 344.5,322.9zM338.7,371.4 338.1,372.0 337.1,371.6 336.6,371.2 337.0,370.7 337.9,370.6zM335.5,351.7 335.2,351.4 335.0,350.6 335.9,349.9 336.2,350.5 335.9,351.4zM367.4,317.8 367.1,317.7 367.1,317.1 367.4,316.5 367.6,316.9 367.8,317.6zM362.4,254.8 361.8,255.2 360.9,255.2 360.6,254.9 361.3,254.3 362.1,254.3zM419.5,403.9 418.8,403.4 418.8,402.7 419.4,402.1 419.8,402.6 419.7,403.5zM375.2,308.1 375.3,307.6 375.9,307.2 376.2,307.1 376.4,307.6 375.9,308.0zM348.4,411.8 347.9,412.1 347.5,412.1 346.9,411.8 347.5,411.3 348.0,411.3zM381.0,433.0 380.8,433.5 380.0,433.6 379.7,433.1 379.9,432.7 380.9,432.7zM319.3,328.6 319.2,327.8 319.9,326.8 320.8,326.7 320.9,327.3 320.1,328.5zM348.6,387.3 348.5,386.7 349.1,386.1 349.6,386.5 349.6,386.8 348.9,387.3zM287.0,321.2 286.4,320.8 286.0,319.6 286.4,319.0 287.0,319.3 287.6,320.2zM357.8,320.9 357.7,320.4 358.2,320.0 358.9,320.1 358.7,320.4 358.3,320.9zM361.3,351.3 361.5,350.5 362.1,350.1 362.4,350.1 362.5,350.8 362.0,351.1zM352.0,364.4 351.4,363.2 351.8,362.1 352.7,362.2 353.2,362.6 352.8,363.6zM347.5,336.7 346.6,336.5 346.8,335.1 347.1,334.4 347.7,334.8 347.8,335.9zM378.1,387.3 377.9,386.8 378.1,386.0 378.7,385.9 378.9,386.3 378.4,386.9zM390.2,344.7 389.4,344.2 389.3,343.1 389.6,342.4 390.2,343.1 390.7,343.8zM408.1,388.4 407.4,388.8 406.7,389.0 405.9,388.1 406.6,387.8 407.5,387.5zM326.4,334.5 326.1,334.5 326.1,334.0 326.3,333.6 326.7,334.0 326.6,334.4zM422.6,428.1 422.9,427.8 423.6,427.7 423.8,427.7 423.7,428.2 423.2,428.3zM369.6,338.5 369.4,338.1 369.8,337.2 370.2,337.3 370.6,337.9 370.3,338.5zM354.7,318.8 353.7,318.3 353.7,317.3 353.7,316.3 354.6,317.1 355.1,318.0zM390.6,362.8 390.1,362.7 389.6,362.4 389.6,361.6 390.2,361.9 390.6,362.3zM402.7,380.6 402.0,380.5 401.3,379.9 401.7,379.1 402.4,379.5 402.7,380.0zM332.5,327.4 331.8,326.7 331.7,325.5 332.5,325.3 333.2,325.8 332.9,326.6zM391.7,384.9 390.5,385.0 389.6,384.4 389.6,383.4 390.3,383.0 391.6,384.0zM418.0,404.2 417.6,404.0 417.4,403.4 417.6,403.2 418.1,403.4 418.4,403.8zM317.0,338.4 316.1,338.4 315.8,337.7 315.8,337.0 316.4,337.2 317.0,337.7zM329.6,386.8 329.0,386.5 328.5,385.8 328.8,385.1 329.6,385.4 329.9,385.9zM342.0,328.5 341.7,327.9 342.1,327.5 342.6,327.0 342.9,327.7 342.8,328.3zM399.2,437.5 399.0,437.2 399.1,436.5 399.5,436.3 399.7,436.4 399.4,437.3zM373.9,402.5 373.5,401.3 373.6,400.7 374.2,400.1 374.7,400.6 374.4,402.1zM361.3,426.8 361.5,426.4 362.0,426.0 362.5,426.3 362.4,426.7 361.8,427.2zM365.8,305.1 365.3,304.7 365.1,304.0 365.6,303.6 366.1,303.7 366.0,304.7zM320.7,392.2 320.8,391.8 321.6,391.7 322.3,391.9 321.9,392.5 321.0,392.8zM335.8,335.3 335.8,334.7 336.0,334.3 336.3,334.3 336.6,334.5 336.2,335.2zM308.0,308.3 308.0,307.9 308.6,307.7 308.8,308.1 308.7,308.3 308.3,308.4zM366.4,340.6 366.0,341.0 365.1,339.9 365.3,339.2 365.9,339.2 366.7,340.3zM359.8,390.6 359.7,389.8 360.2,389.4 360.9,389.7 360.9,390.1 360.2,390.6zM383.7,409.5 383.5,409.5 382.9,409.2 383.0,408.9 383.3,408.9 383.7,409.2zM311.4,308.5 310.9,308.6 310.4,307.3 310.7,306.6 311.4,307.2 311.9,307.8zM316.6,350.3 316.2,350.4 315.9,349.4 316.1,348.5 317.0,348.9 317.0,349.8zM345.6,266.7 344.6,267.0 344.1,266.9 343.7,266.3 344.1,265.9 345.1,266.1zM389.7,407.3 389.3,407.4 388.2,406.7 388.5,405.9 389.5,405.9 390.0,406.7zM374.0,369.1 374.0,368.6 374.7,367.8 375.2,368.4 375.2,368.8 374.6,369.1z" fill="#d1ff73"/>
<path d="M366.9,265.4 366.8,264.7 367.1,263.9 368.0,263.7 367.9,264.7 367.5,265.5zM371.2,273.6 371.8,272.7 372.8,272.3 373.7,272.4 373.5,273.4 371.9,274.1zM380.4,314.2 379.8,314.0 379.4,312.8 379.9,312.0 380.8,312.4 381.3,313.3zM374.4,304.1 373.8,303.5 373.5,302.0 373.8,301.4 374.6,301.7 375.0,302.8zM379.5,321.4 380.4,320.6 381.9,320.5 382.6,321.3 381.9,321.9 380.3,322.0zM368.1,281.4 368.2,280.9 368.8,280.5 369.5,280.9 369.3,281.2 368.4,281.5zM370.3,278.6 369.8,278.6 369.5,278.3 369.6,277.8 370.0,277.8 370.3,278.2zM369.9,270.0 370.7,269.0 371.3,268.5 372.0,269.0 371.7,269.7 371.1,270.0zM387.0,348.8 386.8,348.2 387.7,347.9 388.2,348.0 388.2,348.5 387.2,349.0zM395.8,348.4 395.2,348.2 395.8,347.3 396.3,347.0 396.7,347.5 396.4,348.2zM375.7,293.8 376.1,292.9 376.4,292.5 377.2,292.8 377.2,293.2 376.6,293.7zM372.4,296.8 372.5,296.1 374.2,295.6 374.6,296.1 374.3,296.6 373.4,297.2zM378.5,328.1 378.5,327.8 378.7,327.0 379.1,327.0 379.3,327.5 379.2,328.1zM381.0,334.4 380.3,333.8 380.5,332.4 381.5,332.2 381.8,332.8 381.5,333.8zM387.8,337.6 387.3,337.5 386.6,337.2 386.5,336.6 387.2,336.7 387.6,336.9zM370.3,305.3 369.6,305.3 369.5,304.1 369.7,302.8 370.9,303.3 370.9,304.8zM374.9,319.2 373.7,319.4 372.9,318.6 372.3,317.3 373.4,317.4 374.5,317.7zM392.3,328.0 391.8,328.0 391.1,327.1 391.2,326.3 392.1,326.4 392.8,327.4zM361.5,269.3 360.9,269.1 360.1,268.3 360.3,267.4 361.3,267.5 362.1,268.7zM374.8,281.6 374.1,282.0 373.4,281.6 373.0,281.1 373.8,280.8 374.2,281.0zM387.4,346.8 386.9,346.4 386.9,345.6 387.3,345.2 387.9,345.5 388.0,346.5zM368.9,266.7 368.7,265.8 368.7,264.7 369.6,264.6 370.3,265.0 369.8,265.9zM394.4,355.6 393.9,355.8 393.4,354.8 393.3,354.3 394.4,354.5 394.7,355.1zM390.3,342.1 389.8,341.4 389.4,340.0 390.4,339.2 391.1,340.3 391.3,341.4zM378.3,333.8 378.7,332.8 380.4,332.6 381.0,333.2 380.3,334.2 378.8,334.4zM389.6,338.6 389.4,338.2 390.0,337.8 390.4,337.8 390.5,338.2 390.1,338.6zM362.4,261.6 362.1,260.9 363.3,259.8 364.8,259.2 365.0,260.3 363.8,261.8zM388.2,355.7 388.8,354.7 390.0,354.6 390.7,355.4 390.4,356.3 388.9,356.2zM369.3,294.5 368.8,294.5 368.4,293.4 368.9,292.9 369.2,293.1 369.7,294.1zM378.5,330.5 378.2,329.8 378.9,329.2 379.9,329.3 379.7,329.9 379.2,330.5zM399.1,351.8 398.9,350.9 399.2,349.7 399.7,349.6 400.1,350.0 399.8,351.4zM388.4,341.4 387.8,341.2 386.9,339.8 387.2,338.8 388.3,339.6 388.5,340.2zM377.2,325.8 376.7,325.7 376.6,325.0 376.9,324.4 377.5,324.8 377.4,325.6zM373.5,304.8 372.2,303.9 372.1,302.7 372.5,301.2 373.8,302.4 374.2,304.0zM381.0,315.0 380.6,315.3 379.8,315.0 379.3,314.4 380.2,314.2 380.9,314.3zM384.1,330.1 384.1,329.4 384.9,327.9 385.9,327.1 386.2,328.8 385.5,329.6zM397.8,343.0 397.3,343.2 396.5,342.6 396.3,341.9 397.0,341.6 398.2,342.3zM392.3,345.0 391.6,344.8 391.4,344.5 391.3,344.0 392.0,344.0 392.3,344.4zM392.8,363.9 392.9,363.3 394.4,362.8 395.5,362.7 394.6,364.0 394.1,364.5zM368.1,303.3 367.7,302.9 367.3,302.1 367.8,301.2 368.4,302.2 368.6,303.2zM377.2,310.0 377.0,309.2 377.3,308.4 378.2,308.3 378.5,308.6 377.9,309.4zM360.9,275.3 361.5,274.1 362.4,273.5 363.3,273.9 363.2,274.9 361.7,275.7zM392.6,365.4 392.1,365.7 391.0,364.6 391.2,363.9 391.9,363.7 393.0,364.8zM388.2,335.8 387.7,336.5 386.5,336.4 386.2,335.9 386.4,335.3 387.6,335.1zM384.7,314.0 384.7,313.6 385.3,312.9 385.9,312.8 385.8,313.7 385.5,314.0zM389.9,344.4 389.3,345.0 387.8,344.6 387.6,344.0 387.7,343.2 389.4,343.4zM378.7,305.9 378.7,306.3 377.1,306.1 376.6,305.7 377.5,305.1 378.6,305.2zM385.6,353.8 386.0,352.7 387.0,352.8 387.8,353.2 387.4,353.9 386.2,353.9zM393.9,349.7 393.7,348.9 394.7,348.0 395.8,347.9 395.1,349.1 394.5,349.8zM376.3,293.8 376.6,292.8 377.8,292.4 379.1,292.1 378.4,293.5 377.5,294.1zM365.5,297.1 364.9,296.9 364.6,296.4 364.7,296.0 365.1,295.8 365.6,296.4zM379.9,328.7 379.6,328.2 379.4,327.2 379.9,326.8 380.6,326.8 380.6,328.3zM381.4,339.5 381.1,338.9 381.0,338.0 381.4,337.5 382.0,337.5 382.2,338.7zM375.5,301.4 376.3,300.4 377.1,300.1 377.8,300.7 377.7,301.4 376.7,301.9zM379.0,333.3 379.0,332.8 380.6,332.3 381.2,332.5 380.6,333.4 379.9,333.8zM395.9,366.4 395.4,366.2 394.9,365.8 394.7,365.0 395.3,365.1 395.9,365.5zM382.8,324.4 383.0,323.3 383.4,322.4 384.3,322.3 384.1,323.1 384.1,324.0zM387.4,324.6 387.4,324.4 387.8,323.7 388.4,323.4 388.5,323.8 387.9,324.5zM373.5,253.3 372.8,253.4 372.6,253.1 372.1,252.4 372.9,252.2 373.6,252.8zM391.9,350.4 392.1,349.2 393.5,348.8 393.9,349.5 393.5,350.3 392.7,350.5zM379.3,301.3 379.3,300.3 379.8,299.9 380.6,299.8 380.5,300.3 380.1,301.2zM366.5,262.1 366.0,262.6 365.0,262.4 364.7,261.9 365.2,261.5 366.0,261.8zM386.4,354.4 386.3,353.5 388.1,353.5 388.2,354.0 388.1,354.7 386.6,354.7zM371.7,305.7 370.8,306.0 370.0,306.0 369.8,305.3 370.2,304.6 371.1,304.8zM365.6,274.0 365.0,274.1 363.6,273.3 363.8,272.8 364.5,272.2 365.6,272.9zM384.4,337.6 385.0,336.7 386.4,336.4 387.2,336.8 386.4,337.6 385.6,338.1zM371.0,284.2 370.1,284.5 369.2,283.5 369.4,282.8 370.2,282.8 370.7,283.2zM371.8,267.9 371.9,266.9 372.5,266.4 373.2,266.6 373.0,267.3 372.4,267.7zM361.8,262.4 362.3,261.7 363.7,261.3 364.7,261.3 364.5,262.5 362.9,262.8zM364.6,295.7 364.2,295.1 364.3,294.4 364.8,294.3 365.1,294.8 364.9,295.4z" fill="#d1ff73"/>
<path d="M362.3,125.6 362.0,125.4 362.0,125.0 362.4,124.6 362.6,124.8 362.5,125.3zM374.7,147.3 374.6,146.6 375.0,145.8 375.6,145.9 376.0,146.4 375.4,147.3zM366.1,94.0 365.9,94.1 365.3,93.9 365.0,93.2 365.5,93.2 366.1,93.5zM375.2,141.9 374.8,141.7 374.4,141.4 374.4,140.9 374.8,140.8 375.2,141.2zM372.4,115.1 372.6,114.7 373.6,114.5 373.5,114.9 373.3,115.3 372.5,115.5zM338.3,125.2 338.7,124.4 339.5,124.3 340.1,124.6 339.6,125.1 339.1,125.3zM374.5,143.6 373.8,143.0 374.1,141.7 374.7,141.6 375.2,142.0 375.1,142.9zM353.7,128.9 353.6,128.6 353.9,128.1 354.3,128.1 354.3,128.4 354.0,128.8zM368.7,141.2 368.3,140.7 368.6,139.4 369.1,139.2 369.3,139.8 369.2,140.5zM343.0,195.5 342.4,195.3 342.1,194.7 342.2,194.3 342.7,194.0 343.0,194.9zM353.2,86.4 353.0,85.8 353.2,85.0 353.5,84.8 353.9,85.3 354.0,86.1zM328.4,166.7 327.6,166.5 327.3,165.8 328.0,165.2 328.3,165.1 328.9,166.1zM353.5,163.2 353.3,162.5 353.5,161.8 354.2,161.4 354.5,161.8 354.3,162.9zM380.8,127.8 380.2,127.6 379.6,126.1 379.9,125.9 380.9,126.0 381.0,126.7zM371.2,169.0 370.9,168.9 371.0,168.1 371.3,168.0 371.6,168.2 371.5,168.8zM377.0,144.9 377.3,144.3 378.5,144.3 378.5,144.7 378.2,145.3 377.6,145.2zM370.5,157.3 370.1,157.3 369.8,156.9 369.8,156.5 370.1,156.4 370.6,156.9zM373.0,149.6 372.7,149.1 372.7,148.5 373.1,148.3 373.3,148.8 373.3,149.3zM366.0,85.2 366.6,84.4 368.1,83.8 368.6,84.5 368.0,85.0 366.7,85.6zM335.1,165.8 335.1,165.6 335.4,165.2 335.7,165.3 335.8,165.6 335.4,166.0zM377.3,153.2 376.6,153.7 375.4,153.1 375.3,152.5 376.1,151.9 377.0,152.6zM363.7,126.8 363.0,126.2 363.1,124.8 363.7,124.5 364.5,125.2 364.3,126.6zM331.0,136.8 330.5,136.3 330.3,136.0 330.5,135.5 330.8,135.5 331.0,136.1zM375.7,166.2 374.9,166.2 374.1,165.8 374.0,165.2 374.7,165.1 375.2,165.4zM355.0,174.1 354.3,174.0 354.2,172.6 354.5,171.9 355.0,172.6 355.4,173.5zM342.1,140.2 341.4,139.5 341.6,138.2 342.4,137.7 342.8,138.4 342.9,139.2zM353.7,115.8 354.4,115.3 355.4,115.0 356.0,115.6 355.4,116.1 354.9,116.4zM367.6,103.5 368.8,102.8 369.8,102.4 370.2,103.1 369.9,103.8 368.6,103.8zM347.2,111.2 347.1,111.0 347.6,110.5 347.9,110.5 348.0,111.0 347.4,111.4zM370.7,150.9 371.0,150.4 372.3,149.7 373.0,150.1 372.5,151.0 371.6,151.1zM353.6,164.8 353.9,163.9 354.6,163.9 355.6,164.3 355.6,164.8 354.0,165.3zM376.8,103.8 376.5,103.4 376.5,103.1 376.8,102.7 377.3,103.1 377.2,103.5zM365.7,108.4 365.3,108.5 365.0,108.3 365.1,108.0 365.3,107.8 365.6,108.1zM343.9,133.3 343.9,133.0 344.0,132.7 344.3,132.5 344.4,132.8 344.3,133.4zM355.4,136.5 355.3,136.1 355.9,135.6 356.1,135.7 356.2,136.1 355.8,136.4zM386.3,142.4 386.5,141.5 387.0,140.3 387.6,140.5 387.8,141.4 387.5,142.2zM380.8,122.4 380.5,122.2 380.7,121.1 381.2,120.8 381.6,121.3 381.6,122.0zM328.1,174.8 328.3,174.6 328.7,174.3 328.8,174.6 328.9,174.9 328.3,175.0zM333.3,164.6 333.1,164.9 332.4,165.0 332.1,164.5 332.6,164.3 333.3,164.3zM377.3,129.1 377.0,128.6 377.1,128.2 377.5,127.9 377.7,128.4 377.5,128.8zM359.9,129.9 359.7,129.4 361.0,128.9 361.5,129.1 361.3,129.8 360.4,130.1zM369.2,103.0 368.9,102.9 368.4,102.3 368.7,101.7 369.3,101.8 369.7,102.5zM362.6,94.1 362.3,93.7 362.8,93.0 363.2,92.5 363.6,92.9 363.3,93.7zM370.7,120.7 370.8,120.3 372.0,119.9 372.3,120.3 372.0,120.8 371.4,121.3zM322.9,162.2 322.9,161.7 323.2,161.3 323.4,161.2 323.7,161.3 323.4,162.0zM373.4,100.9 372.8,100.9 372.4,100.3 372.4,99.9 372.8,100.0 373.4,100.6zM345.3,178.4 345.2,177.4 346.0,176.6 346.7,177.0 346.7,177.6 346.0,178.2zM348.0,147.1 347.4,147.0 346.8,146.6 346.8,146.1 347.5,146.0 348.0,146.6zM349.1,126.1 348.9,125.7 349.1,125.0 349.7,124.9 349.9,125.3 349.5,126.0zM356.0,169.4 355.6,169.6 355.0,169.4 354.9,169.1 355.2,169.0 355.8,169.1zM350.0,178.8 349.6,178.3 349.6,177.6 350.0,177.2 350.4,177.5 350.4,178.1zM359.7,113.6 359.2,114.0 358.2,113.9 357.8,113.2 358.4,112.7 359.5,112.5zM373.7,113.0 374.2,112.7 374.8,112.8 375.0,113.1 374.7,113.6 374.2,113.5zM341.7,126.2 341.9,125.7 342.6,125.5 343.6,125.5 343.3,126.2 342.3,126.7zM372.7,130.5 371.4,131.1 370.4,130.2 370.3,129.6 371.1,129.4 372.1,130.0zM361.2,79.0 360.3,79.7 359.7,79.5 359.0,78.6 359.6,78.3 361.1,78.5zM359.0,160.3 359.0,160.0 359.6,159.3 359.9,159.6 359.9,160.0 359.4,160.4zM341.7,129.4 341.0,129.5 340.6,129.1 340.4,128.5 341.0,128.2 341.6,128.6zM331.8,166.7 331.7,166.1 333.0,165.2 333.5,166.0 333.7,166.4 332.5,167.2zM357.2,141.8 356.5,141.7 355.8,140.9 356.0,140.1 357.2,140.0 357.6,141.0zM376.8,155.4 376.5,154.9 376.7,153.8 377.3,153.7 377.7,154.1 377.6,155.1zM376.9,140.3 376.8,139.5 376.9,138.9 377.5,138.9 377.7,139.3 377.4,140.1zM333.8,172.8 333.5,172.3 333.7,171.5 334.3,171.5 334.5,171.9 334.3,172.9zM348.7,92.1 348.5,91.5 348.6,91.2 349.0,91.0 349.3,91.2 349.0,91.8zM342.5,142.1 341.8,141.6 341.4,140.3 341.9,140.3 342.6,140.2 343.0,141.2zM376.2,120.2 376.3,119.7 376.9,119.4 377.1,119.7 377.3,120.0 376.7,120.4zM384.6,144.7 384.3,144.3 384.5,143.5 385.2,143.2 385.5,143.5 385.2,144.3zM350.1,189.3 349.7,189.2 349.2,188.8 349.2,188.3 349.8,188.3 350.1,188.8zM370.8,104.1 369.8,104.5 369.1,104.6 368.0,103.6 368.7,103.3 370.3,103.5zM344.4,139.1 343.8,139.2 342.8,138.8 342.8,138.4 343.6,138.2 344.1,138.5z" fill="#d1ff73"/>
<path d="M347.9,229.2 347.1,229.7 346.2,229.4 346.2,228.7 346.5,228.2 347.5,228.7zM340.3,236.3 340.4,235.9 341.0,235.6 341.4,235.7 341.1,236.1 340.6,236.6zM383.6,197.9 383.5,197.2 384.1,196.2 384.8,196.6 385.1,197.1 384.1,197.9zM350.1,226.5 349.4,226.4 348.8,225.9 349.1,225.4 349.7,225.2 350.2,226.0zM361.6,201.8 360.7,201.2 360.6,200.3 361.1,199.8 361.6,200.1 361.8,200.9zM372.4,178.0 371.8,178.1 371.4,177.4 371.5,176.8 372.0,176.8 372.4,177.2zM339.2,238.2 339.3,237.8 339.8,237.4 340.6,237.4 340.4,238.2 339.9,238.6zM380.8,184.4 380.4,184.6 380.1,184.2 380.0,183.9 380.4,183.8 381.0,184.2zM383.3,203.3 382.8,203.5 382.3,203.1 382.2,202.7 382.6,202.5 383.0,203.0zM367.9,214.3 367.5,214.2 366.8,213.2 367.1,212.9 367.7,212.8 368.2,213.8zM353.7,194.7 354.0,194.3 354.9,194.3 355.3,194.5 354.7,195.2 354.2,195.1zM356.0,212.1 355.5,211.5 355.7,211.1 356.2,210.8 356.3,211.2 356.3,211.9zM341.5,241.7 341.8,241.3 342.6,240.8 343.2,241.0 343.0,241.6 342.1,241.8zM363.7,214.3 364.2,214.0 364.7,213.8 365.3,214.1 365.1,214.7 364.0,214.9zM350.4,214.0 350.1,213.9 350.0,213.4 350.1,213.0 350.4,213.3 350.6,213.6zM367.0,216.8 366.6,216.2 366.9,215.4 367.3,214.8 367.8,215.6 367.6,216.1zM373.9,210.0 372.8,210.3 372.0,209.4 371.6,208.8 372.6,208.6 373.6,209.3zM377.0,217.9 376.1,217.7 375.6,217.4 375.6,216.6 376.3,216.6 376.8,217.1zM380.1,188.2 379.6,187.9 379.5,187.5 379.6,187.3 380.0,187.2 380.3,187.8zM351.7,234.5 351.4,234.3 351.7,233.2 351.9,233.2 352.3,233.6 352.0,234.7zM372.1,179.3 371.5,179.3 370.7,178.5 370.7,178.0 371.4,177.7 372.1,178.5zM376.3,204.9 375.3,204.5 374.8,203.5 375.1,202.7 376.1,203.2 376.4,204.0zM345.8,226.3 345.0,226.6 344.0,226.6 344.0,226.0 344.2,225.6 345.5,225.8zM350.1,211.5 349.8,211.6 349.0,210.8 348.9,210.4 349.6,210.4 350.2,211.0zM362.9,195.9 362.7,196.3 361.9,196.1 361.9,195.8 362.2,195.6 362.7,195.7z" fill="#d1ff73"/>
<path d="M382.4,193.4 382.7,192.8 383.4,192.4 383.9,192.5 383.6,193.2 382.9,193.5zM382.7,191.0 382.0,190.6 381.7,190.1 381.9,189.8 382.3,189.9 382.7,190.5zM343.6,245.2 343.4,245.5 342.8,245.4 342.6,245.1 342.7,244.8 343.3,244.9zM371.2,212.6 371.0,212.5 370.8,212.0 371.3,211.5 371.4,211.8 371.5,212.5zM345.1,221.7 344.9,221.3 345.2,220.6 345.7,220.3 345.9,220.8 345.7,221.7zM370.8,194.1 370.4,194.7 369.9,194.6 369.2,194.2 369.6,193.6 370.5,193.8zM375.6,188.8 375.1,188.5 374.8,188.0 375.1,187.8 375.3,187.6 375.6,188.3zM380.3,197.5 380.0,197.0 380.6,196.4 381.2,196.4 381.3,196.8 381.0,197.3zM355.8,213.8 355.5,214.0 354.5,213.9 354.6,213.6 354.8,213.4 355.4,213.3zM364.3,186.5 364.5,186.0 365.7,185.6 366.0,185.8 365.4,186.6 364.8,186.9zM370.2,197.4 370.1,196.9 371.1,196.6 371.7,197.0 371.5,197.4 370.8,197.7zM380.9,186.9 380.4,187.1 379.7,186.5 379.4,186.0 379.9,185.9 380.5,186.2z" fill="#ff7f7f"/>
<path d="M389.1,442.7 388.5,443.3 387.0,443.1 387.0,442.0 387.8,441.5 388.9,442.2zM383.6,443.3 383.5,442.3 385.2,441.3 386.0,441.7 386.5,442.4 384.8,443.7zM413.9,433.7 414.3,433.3 415.3,432.8 415.7,433.2 415.6,434.0 414.4,433.9zM382.3,430.1 381.7,430.2 381.0,429.5 381.1,429.0 381.6,429.1 382.0,429.5zM381.5,443.4 380.8,442.4 381.3,440.8 381.6,440.2 382.5,440.8 382.5,442.0zM384.5,442.8 384.4,443.1 383.5,443.1 383.2,442.6 383.6,442.4 384.4,442.4zM391.6,432.6 391.1,431.2 391.6,429.6 392.6,429.8 393.0,430.2 392.8,431.4zM397.1,433.4 397.0,433.1 397.0,432.4 397.3,432.2 397.6,432.4 397.6,433.1zM383.1,439.8 382.6,440.1 381.5,439.9 380.7,438.9 381.9,438.7 382.9,438.9zM390.0,443.8 389.9,443.0 391.1,443.1 391.9,443.6 391.4,444.2 390.6,444.3zM378.1,429.0 379.5,428.1 380.5,427.5 381.8,428.3 380.7,429.2 379.5,430.0zM397.0,452.1 396.5,452.0 396.0,451.6 396.0,451.0 396.7,451.0 396.9,451.5zM397.2,435.4 397.1,435.0 397.4,434.0 398.2,434.1 398.4,434.4 397.7,435.4zM399.0,435.7 399.2,434.3 400.0,433.3 401.1,433.1 401.1,433.7 400.4,435.5zM380.0,436.7 379.8,435.8 380.5,435.1 381.4,435.0 381.3,436.0 380.8,436.5zM379.8,440.8 379.8,440.0 381.0,439.7 381.4,440.0 381.2,440.8 380.4,441.0zM397.6,432.1 397.4,431.6 397.7,430.8 398.2,430.4 398.4,431.2 398.1,431.6zM412.0,436.4 412.0,434.9 413.3,434.1 414.0,434.2 414.5,435.1 413.4,436.0zM388.9,433.2 388.8,432.5 389.2,432.0 389.8,432.0 389.9,432.3 389.5,433.0zM386.3,448.6 386.0,448.2 386.3,447.8 386.8,447.5 386.9,447.9 386.6,448.8zM400.2,435.0 399.7,434.3 400.0,433.3 400.3,433.2 400.8,433.3 400.6,434.6zM384.1,436.9 383.2,437.3 382.2,437.2 381.6,436.1 382.2,435.7 383.2,435.9zM383.0,448.7 383.0,448.2 384.1,447.4 385.2,448.0 384.5,448.9 383.9,449.2zM381.3,435.8 380.9,435.0 381.5,433.7 383.1,433.4 383.2,434.2 382.0,436.2zM392.7,434.3 393.2,433.7 393.8,433.1 394.1,433.3 394.3,433.9 393.8,434.4zM404.5,434.7 404.7,433.9 405.6,432.9 406.2,433.1 406.1,434.0 405.3,434.5zM416.5,434.9 415.7,434.0 416.5,432.9 417.3,433.1 417.4,433.6 417.1,434.6zM395.3,446.3 395.1,445.8 395.0,445.5 395.5,444.8 395.8,445.3 395.8,445.9zM398.2,432.8 397.9,433.1 397.2,433.2 397.1,432.7 397.3,432.3 398.0,432.5zM395.5,436.0 394.5,435.8 394.5,434.5 395.1,433.6 395.8,433.9 396.0,435.1zM383.6,428.2 383.6,427.7 384.2,427.3 384.6,427.4 384.6,427.7 384.2,428.2zM384.5,441.9 384.7,441.0 385.2,440.1 385.9,439.6 386.0,440.9 385.5,441.6zM389.4,446.0 388.8,445.8 388.8,444.4 389.6,444.3 390.2,444.5 389.9,445.5zM396.4,450.9 395.9,451.4 394.9,449.9 394.9,448.9 395.8,448.7 396.6,450.2zM389.9,430.0 389.2,429.5 388.5,428.6 388.9,428.0 389.9,428.0 390.3,429.0zM403.7,437.5 404.6,436.7 405.9,435.9 406.7,436.4 406.6,437.6 404.8,438.0zM403.0,435.6 403.1,435.0 403.9,434.0 404.6,434.2 404.5,434.9 403.7,435.5zM397.9,443.8 397.0,443.9 396.7,443.1 396.8,442.4 397.5,442.8 398.0,443.5zM414.3,434.9 413.9,434.6 413.9,434.1 414.0,433.8 414.5,434.0 414.7,434.5zM384.8,451.1 384.3,450.7 384.2,449.9 384.6,449.5 385.1,449.6 385.2,450.3zM410.8,437.2 411.1,436.7 411.7,436.9 412.0,437.3 411.8,437.5 410.9,437.7zM380.5,444.3 380.3,443.6 380.2,442.5 380.9,442.4 381.6,442.8 381.2,444.0zM381.9,434.1 381.1,434.2 379.8,433.0 380.3,432.6 381.0,432.3 382.0,433.3zM384.7,435.6 384.6,434.8 385.3,434.2 385.9,434.5 385.8,435.1 385.1,435.7zM405.0,441.5 403.9,441.5 403.2,441.1 402.7,440.3 403.7,440.3 404.3,440.4z" fill="#d1ff73"/>
<path d="M392.2,395.7 392.7,395.0 393.7,394.9 394.2,395.4 394.2,395.7 393.0,395.8zM393.5,396.7 393.4,395.8 394.0,395.2 395.1,395.1 395.1,396.3 394.5,396.9zM390.5,396.1 391.0,395.3 392.3,395.2 392.6,395.8 392.2,396.5 391.1,396.7zM390.7,393.1 390.9,392.4 391.8,391.6 392.6,391.6 392.2,392.6 391.6,393.0zM392.5,389.7 391.8,389.8 390.7,388.8 390.7,388.0 391.9,387.8 392.5,388.9zM392.7,394.7 392.4,395.3 390.5,394.7 390.6,394.0 390.9,393.4 392.2,393.9zM393.6,391.3 393.8,391.0 394.9,391.0 395.5,391.4 395.1,391.8 394.0,391.9zM394.5,393.1 393.9,393.2 393.3,392.2 393.5,391.7 394.3,391.9 394.8,392.5zM392.3,392.2 391.0,392.7 389.3,392.4 389.3,391.6 390.5,391.0 391.7,391.1zM391.0,395.2 390.3,394.6 390.5,393.3 391.4,392.2 392.2,393.4 391.6,394.3zM392.5,394.4 392.3,393.9 393.0,393.4 393.5,393.6 393.7,394.1 392.9,394.8zM393.8,399.0 393.3,399.1 392.8,397.6 393.1,397.2 393.8,397.4 394.5,398.7zM391.9,392.1 391.2,392.1 390.6,391.2 390.8,390.8 391.2,390.4 392.2,391.8zM391.3,397.2 390.7,396.8 391.1,395.5 391.9,395.5 392.5,396.0 392.0,396.9z" fill="#d1ff73"/>
<path d="M390.6,389.7 390.3,389.2 390.3,388.5 390.8,388.4 391.1,388.7 391.2,389.4zM392.3,396.0 392.2,395.4 392.5,394.5 392.9,394.5 393.1,395.3 392.9,395.6zM392.0,391.9 391.4,392.2 390.0,392.1 390.1,391.5 390.2,391.0 391.4,391.0zM391.5,398.6 390.9,398.6 390.3,397.4 390.6,396.8 391.3,396.8 392.0,397.7zM390.9,390.2 391.1,389.8 391.9,389.8 392.3,389.9 391.9,390.4 391.4,390.5z" fill="#ff7f7f"/>
<path d="M395.9,355.2 395.5,355.5 394.9,355.1 394.7,354.8 395.0,354.5 395.5,354.8zM376.5,282.2 375.5,282.1 374.8,280.4 375.4,280.2 376.7,280.2 377.0,281.1zM443.2,348.9 442.4,348.9 441.8,348.5 441.5,347.5 442.5,347.2 443.7,348.4zM386.3,249.7 385.8,249.5 386.4,248.2 386.9,248.1 387.4,249.0 386.8,249.7zM368.5,253.8 367.8,253.7 367.4,252.7 367.5,251.6 368.1,252.0 368.9,252.7zM394.1,271.4 393.7,271.6 393.2,271.3 393.1,270.9 393.3,270.8 393.9,271.1zM408.4,362.9 407.8,362.9 407.5,361.2 408.2,360.8 408.8,361.0 409.0,362.2zM386.1,302.0 386.0,301.0 386.4,300.5 387.3,300.5 387.6,300.8 386.9,301.7zM376.6,258.1 375.9,257.8 375.2,256.7 375.3,255.7 376.1,256.3 376.7,256.9zM386.3,311.1 386.1,311.4 385.5,311.4 385.4,311.1 385.5,310.8 386.0,310.9zM374.6,291.5 374.1,290.4 374.1,289.4 375.0,289.0 375.8,289.4 375.7,290.8zM401.2,241.8 400.6,242.5 398.9,242.3 398.9,241.5 399.4,241.2 400.6,241.3zM388.5,295.0 387.9,294.7 387.4,293.1 388.0,292.0 389.0,292.8 389.0,294.2zM411.5,376.8 411.2,376.3 411.1,375.9 411.3,375.4 411.7,375.8 411.8,376.3zM375.9,260.4 375.0,260.7 373.7,259.6 374.0,258.7 374.5,258.2 375.7,259.4zM439.8,327.2 439.9,326.7 440.3,326.4 440.7,326.6 440.8,326.9 440.3,327.3zM441.5,416.2 441.1,416.2 440.7,415.9 441.0,415.5 441.2,415.6 441.5,415.9zM406.2,351.0 405.9,351.2 405.5,350.8 405.4,350.2 405.6,350.1 406.3,350.6zM437.2,389.7 436.7,389.6 436.3,389.2 436.4,388.8 436.9,388.9 437.1,389.2zM441.0,359.8 441.2,359.1 442.0,359.0 442.7,359.2 442.3,359.6 441.8,360.0zM447.1,350.8 446.7,350.4 446.6,349.5 447.1,349.1 447.5,349.5 447.4,350.3zM413.8,355.0 413.9,354.5 414.7,353.5 415.2,354.0 415.0,354.6 414.6,354.9zM426.5,343.1 425.6,343.6 424.2,343.0 423.9,342.2 425.2,342.1 426.2,342.1zM423.4,314.6 422.6,314.4 422.3,313.7 422.4,313.3 422.8,313.1 423.2,313.8zM361.5,248.3 360.7,247.6 360.4,246.1 360.8,245.0 361.9,246.0 362.2,247.6zM380.6,284.5 380.6,283.9 381.2,283.3 382.5,283.3 382.3,283.9 381.2,284.6zM380.3,242.5 380.5,241.4 381.3,241.1 382.6,240.9 382.6,241.9 381.6,242.9zM399.0,336.5 398.6,335.9 398.8,334.8 400.0,334.1 400.5,335.0 399.7,336.4zM386.1,298.0 386.3,297.1 386.8,296.3 387.1,296.6 387.3,297.0 386.9,298.0zM405.5,270.5 404.4,270.7 403.3,269.8 403.5,269.4 403.8,268.6 405.5,269.4zM406.7,363.5 406.3,363.3 406.7,362.2 407.3,362.1 407.6,362.7 407.2,363.5zM424.3,318.9 424.6,318.7 425.0,318.5 425.6,318.7 425.5,319.0 424.5,319.3zM386.3,313.7 385.9,313.8 385.6,312.9 385.9,312.4 386.3,312.6 386.6,313.5zM432.7,338.9 431.2,338.5 430.9,338.0 430.8,337.0 431.7,336.7 432.4,337.9zM382.3,274.8 381.8,274.3 381.9,273.9 382.2,273.4 382.5,273.5 382.5,274.2zM392.0,319.1 391.5,319.4 390.3,319.0 390.2,318.6 390.8,318.1 391.6,318.5zM424.2,359.9 423.9,359.5 424.2,358.9 424.5,358.9 424.6,359.1 424.5,359.8zM370.2,252.1 369.6,251.9 368.9,251.1 369.2,250.5 369.9,250.7 370.5,251.4zM446.8,392.2 446.4,392.0 446.3,391.5 446.5,391.3 446.9,391.3 447.1,392.0zM416.1,356.0 415.5,356.2 414.9,356.2 414.6,355.8 415.0,355.5 415.7,355.7zM434.4,404.2 433.6,403.8 433.2,402.3 433.8,402.1 434.5,402.5 434.5,403.3zM388.6,280.5 388.3,280.2 388.6,279.0 389.2,279.0 389.5,279.5 389.4,280.4zM377.5,294.1 377.0,294.2 376.2,292.8 376.6,292.2 377.3,292.7 377.8,293.4zM387.5,310.7 387.8,310.3 388.9,310.1 389.1,310.5 389.1,311.1 387.9,311.3zM426.5,380.8 425.6,380.2 425.1,379.2 425.7,378.2 426.4,378.4 426.6,379.8zM447.4,405.6 446.9,406.1 446.3,406.0 445.7,405.5 446.2,405.1 447.2,405.1zM397.5,261.3 397.0,261.3 396.6,260.6 396.7,260.3 397.2,260.2 397.5,260.8zM447.3,353.3 447.0,353.7 445.7,353.9 445.3,353.1 445.7,352.6 446.9,352.5zM429.4,342.1 429.6,341.2 430.0,340.5 430.8,340.5 431.0,341.2 430.2,342.0zM371.2,271.1 371.7,270.2 372.5,269.6 372.9,270.1 372.9,270.6 372.2,271.2zM367.1,247.9 367.7,247.3 368.2,247.3 368.9,247.4 368.3,248.2 367.6,248.1zM427.2,313.4 426.5,313.7 425.8,313.5 425.1,312.7 425.8,312.6 426.5,312.6zM431.8,381.0 431.4,381.2 430.7,381.1 430.2,380.4 431.0,380.4 431.4,380.3zM387.9,295.1 387.5,295.6 386.9,295.5 386.7,295.2 387.0,294.8 387.7,294.9zM407.6,324.6 406.8,324.9 406.4,324.8 405.9,324.4 406.5,324.0 407.2,324.2zM374.4,252.3 374.0,251.9 374.2,251.5 374.4,251.1 374.7,251.3 374.7,251.9zM404.6,329.0 404.1,329.1 403.8,328.7 403.9,328.2 404.3,328.4 404.6,328.7zM400.2,222.6 400.4,221.8 400.6,221.4 401.3,221.3 401.4,221.8 400.8,222.6zM380.0,275.6 380.2,275.2 380.7,274.7 381.4,274.7 381.4,275.3 380.7,275.7zM430.2,364.9 430.0,364.7 430.4,363.8 430.8,363.7 430.9,364.5 430.5,365.0zM435.9,341.0 435.6,340.4 435.7,339.6 436.0,339.0 436.7,339.8 436.4,340.5zM393.7,239.4 393.2,238.8 393.0,238.2 393.6,237.9 393.8,238.3 394.1,238.8zM442.8,388.8 442.1,389.4 440.9,388.8 440.5,388.2 441.1,387.7 442.2,387.9zM422.9,344.1 423.3,343.7 423.8,343.7 424.2,343.7 423.9,344.3 423.6,344.4zM411.6,311.9 412.0,311.0 413.1,310.7 413.9,310.7 413.5,311.5 412.9,312.2zM379.3,245.2 379.5,244.7 380.3,244.4 380.5,244.7 380.5,245.2 380.1,245.3zM410.6,362.4 410.7,362.0 411.3,361.9 411.4,362.1 411.2,362.5 410.8,362.5zM410.3,315.7 409.6,315.7 409.1,315.3 409.0,314.7 409.8,314.8 410.2,315.3zM428.1,342.9 428.5,342.5 428.9,342.4 429.5,342.9 429.0,343.2 428.5,343.2zM447.0,381.1 445.9,381.5 444.8,381.3 444.6,380.3 444.9,380.0 446.3,380.5z" fill="#38a800"/>
<path d="M405.8,462.1 405.1,461.7 405.0,460.9 405.6,460.4 405.9,460.5 406.2,461.7zM403.3,461.2 402.4,461.4 401.6,460.4 402.0,459.4 402.7,459.4 403.7,460.8zM404.8,453.6 404.7,453.4 404.9,452.9 405.3,452.6 405.6,453.2 405.2,453.6zM401.6,455.5 401.5,455.2 401.8,454.9 402.3,454.8 402.4,455.0 402.0,455.5zM409.1,453.0 408.7,453.6 407.5,453.0 407.4,452.6 407.9,452.0 408.7,452.3zM408.2,451.8 408.0,451.4 408.2,450.8 408.5,450.5 408.9,450.9 408.8,451.7zM400.8,454.7 400.5,454.0 400.7,453.5 401.6,452.8 401.9,453.8 401.5,454.7zM415.4,453.1 415.1,452.8 415.2,452.3 415.5,452.2 415.8,452.5 415.7,453.0zM412.3,451.7 411.7,451.2 411.4,450.2 412.0,450.1 412.3,450.3 412.8,451.3zM425.6,446.8 425.4,446.4 426.6,446.0 426.9,446.1 426.6,446.9 426.0,447.1zM415.3,440.7 414.7,440.9 413.7,440.8 413.3,440.2 414.3,439.9 414.8,439.9zM400.7,467.9 400.7,467.2 400.8,466.7 401.3,466.5 401.6,466.7 401.5,467.6zM411.0,440.4 411.0,439.7 411.5,438.2 412.4,438.0 412.5,439.0 412.1,440.2zM412.2,458.7 412.0,459.0 410.9,458.9 410.7,458.2 411.1,457.8 412.0,458.1zM429.4,449.5 429.4,448.9 430.7,448.9 431.4,449.1 430.8,449.8 429.7,450.2zM423.5,445.2 423.1,445.2 423.0,444.6 423.1,444.3 423.3,444.3 423.7,444.9zM401.1,453.0 400.1,453.6 398.6,453.3 398.5,452.6 399.3,451.9 400.5,452.1zM432.3,442.5 432.7,441.9 433.1,442.0 433.7,442.3 433.5,442.7 432.8,442.7zM423.0,452.4 423.1,451.7 423.6,450.9 424.6,451.1 424.7,451.8 423.7,452.5zM398.9,463.4 399.0,462.9 400.0,462.4 401.2,462.5 400.4,463.6 399.3,464.0zM429.7,443.2 429.8,442.6 430.6,442.4 431.2,442.6 430.8,443.1 430.0,443.4zM424.3,451.7 423.3,451.2 423.1,450.5 423.7,449.5 424.4,450.1 424.7,451.0zM440.2,442.5 439.4,442.7 438.7,442.4 438.2,441.4 439.1,441.3 440.4,441.8zM435.4,438.0 435.6,437.0 436.6,436.9 437.7,437.4 437.1,437.8 435.8,438.4zM436.3,439.7 436.1,440.0 435.0,439.7 434.5,439.3 435.0,439.0 435.8,439.2z" fill="#38a800"/>
<path d="M428.4,315.4 427.3,315.6 426.0,314.8 425.9,313.8 427.1,313.8 427.7,314.3zM433.8,314.7 433.3,314.1 434.1,312.8 434.9,312.5 435.1,313.1 434.8,314.3zM419.9,317.5 419.6,316.3 419.8,315.6 420.7,315.1 421.0,315.9 420.7,316.6zM429.0,324.9 428.2,324.1 428.1,323.3 428.2,322.2 429.4,322.9 429.6,323.7zM432.3,324.9 432.2,324.2 432.6,323.1 433.1,323.0 433.4,323.8 433.3,324.4zM435.3,323.8 434.8,323.9 434.3,323.7 434.2,323.2 434.7,322.9 435.4,323.3zM431.2,324.3 431.2,323.4 431.1,322.4 431.9,322.2 432.2,322.9 432.1,324.0zM430.8,317.7 430.4,317.3 431.4,315.6 432.3,315.9 432.4,316.7 431.6,318.0zM424.0,320.2 423.6,319.9 423.9,318.7 424.3,318.5 424.7,319.3 424.6,319.8zM427.3,317.7 426.0,317.8 424.9,317.3 424.5,316.5 425.6,316.4 427.0,316.9zM427.0,314.9 426.5,314.4 426.7,313.5 427.3,312.6 428.0,313.5 427.8,314.5zM422.6,318.0 421.7,318.2 420.7,317.8 420.2,317.3 421.2,316.8 421.8,317.0zM436.0,316.3 436.2,315.6 437.2,315.6 437.8,316.0 437.0,316.6 436.2,316.8zM425.2,313.9 425.8,313.3 426.8,312.9 427.4,313.1 426.8,314.0 425.8,314.3zM429.6,314.9 429.6,314.2 430.0,313.1 430.4,313.3 430.7,313.9 430.4,314.5zM429.3,322.2 429.0,322.6 428.3,322.6 427.7,321.9 428.2,321.6 429.1,321.8zM427.3,312.4 427.9,311.3 429.5,311.1 430.1,311.2 429.5,312.5 428.4,312.8zM437.5,327.0 437.4,326.3 439.0,325.7 439.4,326.2 438.9,326.9 438.3,327.5zM424.8,315.9 424.5,315.5 424.5,315.0 424.9,314.6 425.1,315.2 425.0,315.8zM429.1,313.4 428.5,313.1 428.6,311.2 429.5,310.9 430.4,311.8 430.1,312.6zM431.0,315.5 430.5,315.6 430.0,315.2 430.1,314.7 430.3,314.5 430.9,314.9zM436.1,328.1 436.1,327.3 437.1,326.6 438.4,326.3 438.2,327.6 436.9,328.5zM432.2,321.3 432.3,320.8 433.4,320.5 433.9,321.0 433.7,321.4 432.7,321.9zM434.7,327.2 434.0,327.3 433.3,326.5 433.6,325.8 434.0,325.5 434.5,326.4zM428.9,321.2 428.5,320.7 428.5,319.7 428.8,319.1 429.3,319.6 429.6,320.4zM435.6,322.9 435.5,322.5 435.6,322.0 436.0,321.7 436.3,322.0 436.1,322.8zM435.1,318.8 434.1,319.4 433.3,319.4 432.6,318.9 433.0,318.1 434.6,318.0zM434.6,313.6 434.5,313.5 434.9,312.8 435.7,313.0 435.5,313.6 435.0,313.8z" fill="#d1ff73"/>
<path d="M455.7,248.4 455.8,248.8 455.4,249.7 455.0,249.9 455.1,249.2 455.4,248.5zM443.4,264.8 442.8,265.7 442.3,266.2 441.5,266.4 441.4,265.8 442.5,264.8zM440.3,278.0 440.3,278.9 439.1,280.3 438.4,280.3 438.6,279.1 439.3,278.7zM438.8,278.9 438.5,279.6 437.9,279.9 437.2,280.0 437.2,279.4 438.1,278.9zM450.3,263.8 450.9,264.4 450.1,266.0 449.6,266.1 449.2,265.2 449.6,264.3zM449.2,250.7 449.0,251.2 448.3,252.2 447.0,252.3 447.5,251.6 448.6,250.3zM435.0,272.4 435.1,272.8 434.3,273.4 433.6,273.6 433.8,273.1 434.7,272.3zM443.9,263.4 444.2,263.9 444.2,264.7 443.6,265.5 443.4,264.5 443.4,263.9zM445.3,273.2 445.3,273.8 444.4,274.5 444.1,274.2 444.1,273.9 444.9,273.3zM444.0,254.0 444.0,255.5 443.5,257.5 442.5,257.7 442.7,256.1 443.1,255.1zM440.2,272.7 440.1,273.5 439.6,274.3 438.7,274.7 438.6,274.1 439.1,273.3zM436.8,279.1 436.9,279.7 436.8,280.7 436.4,281.0 436.2,280.5 436.3,279.4zM438.2,270.5 438.5,270.8 438.2,271.8 437.2,272.7 437.3,271.9 437.4,270.7zM454.2,255.6 454.7,256.1 453.6,257.6 452.5,257.6 452.6,256.7 453.5,255.4zM454.6,248.2 454.7,249.2 454.2,250.1 453.9,250.0 453.4,249.9 454.2,248.5zM441.5,277.2 441.3,277.7 440.0,279.2 439.2,279.0 439.0,278.2 441.1,276.5zM454.1,254.9 454.0,255.3 453.2,256.0 452.7,255.9 452.8,255.7 453.3,254.9zM449.9,259.8 449.4,260.5 448.5,260.9 448.0,260.9 448.4,260.0 449.4,259.4zM442.8,264.8 443.3,265.9 442.7,267.6 442.1,267.5 441.8,266.8 442.0,265.6zM451.3,255.7 451.6,256.1 451.0,257.7 450.4,257.7 450.3,257.2 450.6,256.3zM444.2,265.8 444.5,266.4 443.4,267.3 442.9,267.6 442.9,266.6 443.8,265.6zM449.9,253.3 450.1,253.9 450.0,254.5 449.6,254.8 449.4,254.2 449.7,253.6zM437.6,279.1 437.7,279.8 437.1,280.7 436.5,280.8 436.7,280.0 437.1,279.4zM445.2,254.0 445.3,254.9 445.1,255.7 444.4,256.4 444.1,255.6 444.3,254.5zM443.5,264.2 443.6,265.0 443.0,266.1 442.7,265.9 442.4,265.6 443.0,264.4zM443.9,271.6 443.9,272.3 443.4,273.4 442.7,273.4 442.6,272.7 443.3,271.9zM442.7,264.7 443.2,265.2 443.1,266.5 442.4,267.3 441.9,266.6 442.3,265.6zM456.8,252.1 457.2,252.8 457.2,253.8 456.8,254.0 456.5,253.3 456.5,252.3zM441.3,269.6 441.2,270.2 440.5,270.7 439.5,270.5 439.5,270.1 440.9,269.4zM444.3,258.2 444.4,258.6 443.5,260.0 442.9,260.0 442.8,259.3 443.3,258.5z" fill="#d1ff73"/>
</g>
<g filter="url(#rg2)">
<polygon points="436.2,417.3 437.7,417.7 437.7,420.0 436.2,420.0" fill="#ff7f7f"/>
<polygon points="409.4,193.5 401.8,197.2 394.9,198.6 389.4,202.1 385.2,207.7 378.3,213.2 371.4,217.3 365.9,222.2 361.1,228.0 363.4,225.0 360.6,228.9 358.3,232.8 357.5,235.9 354.4,239.1 351.2,241.4 350.1,244.5 349.3,248.4 347.7,252.3 346.6,256.2 345.8,259.4 345.0,260.9 347.3,261.7 350.5,260.2 352.8,257.8 354.4,254.7 355.9,250.8 358.3,247.7 360.6,244.5 363.8,242.2 366.1,239.1 367.7,235.2 370.0,231.2 373.9,228.9 376.2,225.0 372.8,230.0 376.9,225.9 382.5,221.8 388.0,217.6 393.5,213.5 399.0,207.9 404.5,203.1 408.7,196.9" fill="#ff7f7f"/>
<polygon points="436.8,277.5 439.9,277.1 440.6,280.2 437.8,280.9" fill="#ff7f7f"/>
<polygon points="431.7,330.3 431.3,331.2 430.4,331.7 429.2,331.7 428.3,331.2 427.9,330.3 428.3,329.4 429.2,328.9 430.4,328.9 431.3,329.4" fill="#ff7f7f"/>
<polygon points="390.4,257.5 392.0,257.5 394.6,261.7 393.0,262.2" fill="#ff7f7f"/>
<polygon points="439.0,306.0 438.7,306.8 438.0,307.3 437.2,307.3 436.5,306.8 436.2,306.0 436.5,305.2 437.2,304.7 438.0,304.7 438.7,305.2" fill="#ff7f7f"/>
<polygon points="433.6,346.0 433.4,346.9 432.7,347.4 431.9,347.4 431.2,346.9 431.0,346.0 431.2,345.1 431.9,344.6 432.7,344.6 433.4,345.1" fill="#ff7f7f"/>
<polygon points="397.7,464.6 400.3,464.1 401.4,466.7 400.3,469.0 397.9,468.6" fill="#ff7f7f"/>
<polygon points="402.4,461.0 404.5,460.7 404.8,463.6 402.7,463.8" fill="#ff7f7f"/>
<polygon points="351.2,79.7 352.6,79.5 353.6,83.0 354.1,86.2 352.8,86.5 351.9,83.0" fill="#ff7f7f"/>
<polygon points="359.1,73.5 361.4,74.5 361.9,76.5 360.1,75.8" fill="#ff7f7f"/>
<polygon points="402.1,199.2 395.8,202.8 391.1,206.5 386.5,210.6 381.2,214.8 376.6,218.4 372.4,222.1 373.4,223.1 377.6,220.0 382.3,216.4 387.5,212.7 392.7,209.1 396.9,205.4 401.0,201.8 403.6,199.7" fill="#38a800"/>
<polygon points="442.0,419.2 443.6,417.3 446.7,415.7 449.8,415.2 451.8,415.7 451.4,417.7 449.5,419.6 446.7,420.8 444.0,421.2 442.0,420.4" fill="#005ce6"/>
<polygon points="450.2,409.1 451.8,408.7 452.2,411.4 451.0,413.0 450.2,411.4" fill="#005ce6"/>
<polygon points="429.5,422.0 431.5,420.8 433.4,422.0 433.8,424.3 432.3,425.5 430.3,424.7 429.1,423.5" fill="#005ce6"/>
<polygon points="431.9,415.3 433.4,414.9 434.2,417.7 435.4,420.0 434.2,420.8 432.7,418.4" fill="#005ce6"/>
<polygon points="424.8,428.6 428.0,428.2 431.1,429.8 433.4,431.7 432.7,434.1 431.1,436.0 429.1,436.8 427.6,434.5 425.6,432.1 424.5,430.2" fill="#005ce6"/>
<polygon points="434.2,429.4 435.8,430.5 437.3,433.3 438.1,436.4 436.2,437.0 435.0,434.1 433.8,431.7" fill="#005ce6"/>
<polygon points="434.5,429.1 436.4,431.7 438.4,435.6 437.1,437.6 435.1,434.3" fill="#005ce6"/>
<polygon points="424.8,428.7 427.9,427.6 431.0,429.2 433.1,432.3 434.2,434.9 432.6,437.0 430.0,436.0 428.4,433.4 425.8,431.8" fill="#005ce6"/>
<polygon points="434.2,429.2 436.8,430.2 438.3,434.4 438.9,437.5 436.8,436.5 435.2,433.4" fill="#005ce6"/>
<polygon points="386.5,287.7 386.1,288.3 385.1,288.7 383.9,288.7 382.9,288.3 382.5,287.7 382.9,287.1 383.9,286.7 385.1,286.7 386.1,287.1" fill="#005ce6"/>
<polygon points="390.4,287.0 390.2,287.5 389.8,287.8 389.2,287.8 388.8,287.5 388.6,287.0 388.8,286.5 389.2,286.2 389.8,286.2 390.2,286.5" fill="#005ce6"/>
<polygon points="428.1,338.7 427.8,339.3 426.9,339.7 425.9,339.7 425.0,339.3 424.7,338.7 425.0,338.1 425.9,337.7 426.9,337.7 427.8,338.1" fill="#005ce6"/>
<polygon points="395.2,334.8 395.0,335.6 394.4,336.1 393.8,336.1 393.2,335.6 393.0,334.8 393.2,334.0 393.8,333.5 394.4,333.5 395.0,334.0" fill="#005ce6"/>
<polygon points="398.4,338.1 398.2,338.7 397.6,339.1 397.0,339.1 396.4,338.7 396.2,338.1 396.4,337.5 397.0,337.1 397.6,337.1 398.2,337.5" fill="#005ce6"/>
<polygon points="423.8,451.6 426.4,451.3 426.6,453.7 424.0,453.9" fill="#005ce6"/>
<polygon points="398.3,464.2 400.0,464.0 400.2,466.1 398.5,466.3" fill="#005ce6"/>
<polyline points="400.0,201.5 395.8,203.9 392.2,206.5" fill="none" stroke="#d1ff73" stroke-width="1.0" stroke-linejoin="round" stroke-linecap="round"/>
<polyline points="407.8,198.1 403.1,202.8 396.9,208.0 391.7,212.2 386.5,215.8 381.2,219.5 376.0,223.6 372.4,226.8 367.7,229.7 364.9,232.8 362.6,235.9 359.8,239.8 355.9,243.8 353.2,247.7 351.2,251.6" fill="none" stroke="#005ce6" stroke-width="1.3" stroke-linejoin="round" stroke-linecap="round"/>
<polyline points="351.2,243.8 350.1,247.7 348.5,251.6 347.3,255.5 346.6,258.6 343.4,260.9 339.5,261.6 337.2,263.3 335.6,265.6" fill="none" stroke="#005ce6" stroke-width="1.2" stroke-linejoin="round" stroke-linecap="round"/>
<polyline points="405.2,196.9 399.0,199.7 392.7,202.5 388.5,205.6 384.4,210.3 379.2,214.0 374.0,217.6 368.8,222.3 365.6,226.2" fill="none" stroke="#005ce6" stroke-width="0.7" stroke-linejoin="round" stroke-linecap="round"/>
<polyline points="339.1,132.8 338.4,136.7 335.8,141.9 333.2,145.8 329.3,149.7 325.4,154.3 322.1,158.9 320.8,162.8 319.5,168.0" fill="none" stroke="#ff7f7f" stroke-width="0.9" stroke-linejoin="round" stroke-linecap="round"/>
<polyline points="311.4,193.3 316.0,192.8 321.2,193.3 325.4,192.3 329.6,190.7 333.8,189.2 336.9,187.1 341.0,185.0 345.2,183.4 350.4,179.8 354.6,175.6 357.7,171.5 360.8,167.3 362.9,163.1 364.5,160.0" fill="none" stroke="#ff7f7f" stroke-width="0.8" stroke-linejoin="round" stroke-linecap="round"/>
<polyline points="383.3,145.8 380.7,151.0 378.1,155.6 374.2,160.8 371.6,165.4 369.0,169.9" fill="none" stroke="#005ce6" stroke-width="1.6" stroke-linejoin="round" stroke-linecap="round"/>
<polyline points="369.0,169.9 365.1,174.5 358.6,179.0 354.7,182.3 352.1,186.2 350.1,190.8 348.8,195.1 339.5,206.7 336.9,218.4 334.9,228.9 331.7,239.3 322.6,249.7" fill="none" stroke="#ff7f7f" stroke-width="1.0" stroke-linejoin="round" stroke-linecap="round"/>
<polyline points="369.7,170.6 365.8,175.1 359.2,179.7 355.3,182.9 352.7,186.8 350.8,191.4 349.5,195.1 340.1,206.7 337.5,218.4 335.6,228.9 332.3,239.3" fill="none" stroke="#005ce6" stroke-width="0.7" stroke-linejoin="round" stroke-linecap="round"/>
<polyline points="462.8,244.7 459.5,248.9 456.1,254.1 452.9,259.3 450.3,264.0 447.7,269.2 445.1,273.9 442.0,278.6 439.4,282.2" fill="none" stroke="#ff7f7f" stroke-width="1.6" stroke-linejoin="round" stroke-linecap="round"/>
<polyline points="463.3,245.0 460.0,249.2 456.6,254.4 453.4,259.6 450.8,264.3 448.2,269.5 445.6,274.2 442.5,278.9" fill="none" stroke="#6a5fd0" stroke-width="1.1" stroke-linejoin="round" stroke-linecap="round"/>
<polyline points="442.5,278.9 439.9,282.5 438.1,285.6 437.8,289.8 438.9,294.0 440.4,298.1 441.5,301.0 440.5,296.0 441.6,300.2 439.0,303.8 437.4,306.4 437.9,310.6 439.0,314.8 440.5,318.9 441.6,323.1 441.0,327.2 438.4,330.4 435.3,333.0 433.8,335.1 434.8,337.7 437.4,340.3 440.0,342.9 442.6,346.0 444.2,349.1 444.7,352.0 444.5,348.8 445.8,353.4 444.5,357.3 441.2,359.9 436.0,360.5 432.7,361.2 433.4,363.8 436.0,366.4 437.3,370.1" fill="none" stroke="#005ce6" stroke-width="1.2" stroke-linejoin="round" stroke-linecap="round"/>
<polyline points="439.0,285.6 438.7,289.8 439.8,294.0 441.3,298.1 442.4,301.0" fill="none" stroke="#ff7f7f" stroke-width="0.9" stroke-linejoin="round" stroke-linecap="round"/>
<polyline points="437.9,370.0 439.2,373.9 442.5,377.8 445.1,381.7 443.8,386.9 441.2,390.2 437.3,392.1 434.0,394.1 433.4,396.7 436.0,399.3 441.2,400.6 445.8,400.6 449.0,402.6 451.0,406.5 451.0,410.4" fill="none" stroke="#005ce6" stroke-width="0.9" stroke-linejoin="round" stroke-linecap="round"/>
<polyline points="377.6,86.9 377.0,92.8 376.4,97.3 375.7,100.8" fill="none" stroke="#005ce6" stroke-width="0.9" stroke-linejoin="round" stroke-linecap="round"/>
<polyline points="383.0,143.8 381.5,149.0 379.6,154.2" fill="none" stroke="#005ce6" stroke-width="0.9" stroke-linejoin="round" stroke-linecap="round"/>
<polyline points="334.3,323.9 329.1,329.1 319.9,334.3 313.4,340.8 308.2,348.6 306.3,356.5 309.5,364.3 314.7,370.8 318.0,376.0" fill="none" stroke="#7cc93a" stroke-width="0.6" stroke-linejoin="round" stroke-linecap="round"/>
<polyline points="362.3,320.0 363.6,330.4 368.1,342.1 371.4,353.9 372.0,364.3 370.1,376.0 368.1,390.1" fill="none" stroke="#7cc93a" stroke-width="0.6" stroke-linejoin="round" stroke-linecap="round"/>
<polyline points="339.5,270.8 348.6,276.0 357.7,279.3 365.5,282.6 372.0,284.1" fill="none" stroke="#8fd24a" stroke-width="0.6" stroke-linejoin="round" stroke-linecap="round"/>
<circle cx="352.7" cy="88.3" r="1.1" fill="#005ce6"/>
<circle cx="355.8" cy="111.3" r="1.3" fill="#005ce6"/>
<circle cx="353.8" cy="121.1" r="1.5" fill="#005ce6"/>
<circle cx="343.0" cy="120.6" r="0.7" fill="#005ce6"/>
<circle cx="372.0" cy="124.6" r="1.3" fill="#005ce6"/>
<circle cx="375.8" cy="86.8" r="1.3" fill="#005ce6"/>
<circle cx="363.9" cy="98.2" r="1.0" fill="#ff7f7f"/>
<path d="M364.8,258.1 364.1,257.9 363.0,256.3 363.2,255.4 363.9,256.1 364.7,257.1zM439.4,387.1 439.7,386.6 440.1,386.6 440.4,386.8 440.3,387.1 439.6,387.4zM429.3,332.0 429.0,331.4 429.0,330.1 429.8,330.0 430.3,330.3 430.0,331.7zM386.9,292.8 386.3,293.0 385.7,292.6 385.7,292.1 386.1,292.1 386.5,292.4zM440.2,319.6 440.1,319.1 440.0,318.0 441.2,317.1 441.3,318.5 440.8,320.0zM401.9,230.0 401.4,230.1 401.1,229.5 401.2,229.0 401.7,229.2 401.9,229.8zM427.3,353.7 427.3,352.9 427.8,352.6 428.7,352.4 428.7,352.9 427.9,353.7zM407.6,369.7 407.1,369.7 406.4,369.3 406.4,369.0 406.7,368.9 407.2,369.1zM404.2,324.4 403.9,324.7 402.6,324.3 402.6,323.6 403.0,323.4 404.0,323.8zM435.4,339.6 435.3,339.4 435.4,338.8 435.8,338.5 436.0,338.8 435.8,339.6zM415.1,377.4 415.4,376.6 416.0,375.9 416.6,375.6 416.5,376.6 415.9,377.4zM398.3,353.7 397.6,353.9 396.8,353.3 396.8,352.8 397.7,352.5 398.1,352.9zM397.6,233.9 397.4,234.0 396.7,233.8 396.5,233.2 396.9,233.2 397.6,233.4zM401.3,251.9 401.1,252.3 400.4,252.3 399.8,251.7 400.2,251.4 401.4,251.6zM388.6,241.4 388.2,240.9 387.8,239.8 388.3,239.3 389.1,239.4 388.9,240.6zM365.6,246.9 365.2,246.9 364.3,246.4 364.4,245.9 364.9,246.0 365.4,246.4zM428.6,350.3 428.3,349.9 428.7,349.3 429.0,349.0 429.2,349.3 429.0,350.0zM409.2,301.4 408.8,300.7 409.4,299.7 409.9,299.5 410.0,300.0 409.8,300.8zM401.9,235.1 401.5,235.2 400.5,234.0 400.6,233.4 401.3,233.8 401.9,234.5zM444.7,403.2 443.9,403.4 443.4,403.1 443.3,402.6 443.7,402.4 444.6,402.9zM393.7,314.8 393.6,314.2 393.8,313.4 394.2,313.2 394.4,313.9 394.1,314.4zM439.9,402.0 440.4,400.9 441.2,400.4 442.0,400.5 441.4,401.3 440.7,401.8zM397.3,356.5 397.4,356.1 397.9,355.8 398.4,355.8 398.3,356.3 397.5,356.7zM403.1,271.9 402.9,271.0 403.4,270.0 404.1,269.9 404.2,270.6 403.6,271.6zM423.2,361.0 423.1,360.6 423.3,360.0 423.7,359.5 423.8,360.3 423.8,360.8zM398.9,225.4 398.4,224.8 398.6,223.2 399.0,222.9 399.5,224.0 399.6,224.7zM409.6,337.6 409.4,337.4 409.9,336.6 410.2,336.7 410.5,336.9 409.9,337.7zM432.5,330.9 432.7,330.3 433.7,329.9 434.5,330.3 433.8,330.8 433.2,331.0zM437.3,398.8 437.1,398.2 438.4,397.8 438.9,397.8 438.6,398.6 437.5,399.2zM440.1,406.6 438.8,406.7 437.9,406.4 437.8,405.5 438.1,405.0 439.3,405.8zM383.5,265.7 384.0,264.8 384.6,264.4 385.1,264.1 385.0,264.9 384.5,265.6zM397.1,340.4 396.6,340.2 395.9,339.8 395.8,339.3 396.4,339.2 396.9,339.6zM434.1,347.1 434.4,346.5 435.0,346.0 435.4,346.3 435.3,346.6 434.8,347.1zM435.8,318.3 435.7,317.7 436.2,316.9 436.9,316.6 437.0,317.0 436.3,318.4zM432.5,388.0 431.7,387.8 432.2,385.9 432.8,385.5 433.2,386.5 433.1,387.7zM392.5,269.9 392.1,269.3 392.2,268.6 392.6,268.1 392.9,268.7 392.9,269.4zM395.8,235.3 395.2,235.5 394.7,235.4 394.2,234.7 395.0,234.6 395.6,235.0zM400.5,246.2 400.0,245.6 399.6,244.7 399.7,243.9 400.4,244.6 400.8,245.4zM429.7,378.6 428.1,378.6 427.3,378.0 427.2,376.9 428.3,376.8 429.4,378.0zM442.9,341.3 443.4,340.7 444.9,340.5 445.2,341.1 444.3,341.6 443.3,341.5zM421.0,372.3 421.2,371.9 422.1,371.7 423.3,371.9 422.5,372.7 421.6,372.7zM396.0,215.7 396.1,215.1 396.6,214.6 397.2,214.6 397.3,215.1 396.7,215.6zM368.1,266.0 368.0,265.4 368.4,264.9 368.8,264.5 368.8,265.1 368.6,265.7zM395.0,257.9 394.9,257.3 395.2,256.2 396.1,256.0 396.1,256.7 395.9,257.1zM388.2,318.4 387.8,318.4 387.2,318.0 387.3,317.4 387.6,317.4 388.1,317.8zM430.0,392.0 430.2,391.5 430.6,391.2 431.1,391.1 431.0,391.6 430.4,391.9zM378.5,286.0 378.6,285.2 379.0,284.7 379.5,284.5 379.4,285.2 379.1,285.6zM445.2,384.0 445.6,383.4 446.6,382.9 447.6,383.2 446.9,383.8 445.7,384.3zM438.7,346.5 438.2,346.1 438.3,345.7 438.4,345.2 438.7,345.6 438.8,346.1zM411.6,301.7 410.9,301.9 410.1,301.9 409.6,301.4 410.4,301.2 410.9,301.4zM402.6,280.0 402.1,280.2 400.6,279.8 400.4,279.3 401.2,279.0 401.9,279.1zM418.4,312.6 418.3,311.9 418.7,311.1 419.0,311.0 419.3,311.6 418.8,312.1zM423.7,388.3 422.9,387.8 422.3,386.9 422.4,386.3 423.1,386.7 423.5,387.2zM374.3,247.8 373.9,247.8 373.5,246.4 373.7,245.7 374.3,246.2 374.7,247.0zM422.0,311.7 421.3,311.5 420.7,310.7 420.6,310.2 421.4,310.1 422.1,311.2z" fill="#ff7f7f"/>
<path d="M412.3,344.6 412.6,344.1 413.0,343.8 413.4,343.9 413.2,344.3 412.7,344.7zM386.1,277.3 385.9,277.1 386.0,276.5 386.2,276.5 386.4,276.4 386.4,276.9zM381.0,269.1 380.7,269.4 380.1,269.6 379.7,269.1 380.0,268.9 380.5,268.8zM376.1,253.0 375.9,252.6 376.2,252.2 376.7,251.9 376.7,252.4 376.4,252.8zM410.4,305.5 409.9,305.5 409.6,304.9 409.6,304.0 410.2,304.2 410.6,304.9zM443.3,413.5 443.1,413.2 443.0,412.9 443.3,412.7 443.5,412.8 443.5,413.4zM430.7,335.7 430.4,335.1 430.2,334.4 430.8,334.0 431.3,334.0 431.4,335.0zM432.0,332.2 432.4,331.5 433.3,331.7 433.4,331.9 433.2,332.5 432.7,332.4zM429.2,393.3 429.0,392.9 430.2,392.9 430.5,393.1 430.3,393.6 429.5,393.7zM364.7,254.7 364.4,254.9 364.1,254.8 364.1,254.5 364.2,254.3 364.6,254.5zM394.1,271.4 394.0,271.0 394.1,270.7 394.7,270.6 394.7,271.0 394.4,271.3zM434.7,320.2 434.8,319.9 435.1,319.5 435.7,319.5 435.7,320.0 435.0,320.5zM450.9,380.2 450.5,379.9 450.3,379.5 450.5,378.9 450.8,379.1 450.9,379.8zM445.8,404.4 445.7,403.9 445.8,403.6 446.2,403.3 446.3,403.7 446.2,404.1zM380.3,266.0 379.3,265.8 379.1,265.0 379.1,264.4 379.7,264.5 380.5,265.5zM391.5,237.2 391.2,237.5 390.7,237.4 390.4,237.1 390.8,236.8 391.3,236.7zM397.2,278.5 397.3,278.2 397.7,278.0 398.4,278.1 398.0,278.5 397.4,278.6zM399.7,282.3 399.4,282.7 398.6,282.1 398.4,281.5 399.0,281.3 399.6,281.8zM409.7,334.9 409.3,334.6 408.8,334.0 408.8,333.4 409.4,333.4 409.9,334.3zM411.1,367.6 411.3,367.0 412.2,366.8 412.8,367.2 412.4,367.8 411.5,367.9zM437.7,396.0 437.8,395.5 438.9,395.3 439.4,395.4 438.8,396.1 438.4,396.2zM411.6,386.3 411.0,386.6 410.4,386.0 410.5,385.5 411.1,385.5 411.5,385.8zM433.5,361.8 433.5,361.4 434.0,361.1 434.5,361.3 434.5,361.5 434.0,361.8zM450.3,417.1 449.8,417.2 449.5,416.1 450.0,415.8 450.5,416.0 450.7,417.0zM393.6,255.4 393.0,255.8 392.6,255.4 392.5,254.9 392.8,254.6 393.7,255.0zM421.2,370.2 421.3,369.6 422.0,369.3 422.4,369.8 422.3,370.1 421.3,370.5zM443.9,387.0 443.8,387.3 443.3,387.2 443.0,386.7 443.4,386.6 443.9,386.6zM433.5,369.2 432.7,369.3 432.6,368.6 432.5,367.8 433.2,368.1 433.9,368.6zM389.0,307.7 388.6,307.4 388.5,306.5 389.0,305.9 389.4,306.8 389.7,307.3zM399.8,299.2 399.8,298.8 400.1,298.4 400.7,298.3 400.7,298.8 400.1,299.3zM389.4,267.3 389.4,267.0 390.2,266.6 390.3,266.9 390.3,267.3 389.9,267.4zM387.9,278.0 387.5,277.1 388.3,276.0 388.7,276.1 388.9,277.0 388.7,277.6zM418.0,371.7 418.1,370.7 418.7,370.1 419.1,370.4 419.2,371.0 418.6,371.5zM396.8,271.8 396.5,271.9 396.1,271.4 396.0,270.8 396.4,271.0 396.9,271.5zM435.5,359.6 435.1,359.4 435.0,359.2 435.0,358.8 435.4,358.8 435.7,359.4zM402.0,306.3 402.2,305.9 402.6,305.6 403.0,305.8 403.0,306.1 402.5,306.5zM437.6,372.7 437.5,372.1 437.9,371.8 438.4,371.8 438.6,372.4 438.0,372.7zM382.9,281.3 382.6,281.3 382.3,280.9 382.4,280.7 382.7,280.8 383.0,281.1zM436.2,325.1 435.7,324.5 435.7,323.8 436.1,323.2 436.8,323.6 436.5,324.9zM366.7,264.0 366.4,263.3 366.8,262.6 367.5,262.5 367.7,262.8 367.3,263.7zM405.1,267.8 405.1,267.5 405.7,267.4 406.0,267.6 405.9,268.0 405.3,267.9zM397.1,347.9 397.3,347.5 397.8,347.3 397.9,347.5 397.8,348.0 397.3,348.0zM438.4,379.3 438.3,379.2 438.2,378.7 438.5,378.5 438.7,378.7 438.7,379.2zM422.6,382.5 422.3,382.2 422.5,381.5 423.0,381.2 423.3,381.3 423.0,382.1zM390.9,284.4 390.3,284.4 389.8,283.9 390.0,283.2 390.5,283.4 391.0,283.9z" fill="#005ce6"/>
<path d="M420.9,455.8 420.0,456.5 419.1,456.6 418.2,456.3 418.3,455.7 420.4,455.1zM407.6,454.6 406.7,455.2 405.7,455.4 404.5,455.2 405.3,454.4 406.5,454.1zM432.5,447.1 432.0,447.4 431.4,447.5 430.9,447.4 431.1,447.1 431.7,446.9zM414.6,442.9 414.0,443.6 412.9,443.7 412.4,443.4 412.9,442.9 414.1,442.6zM411.3,447.0 411.0,447.9 410.4,448.9 408.8,449.2 409.1,448.1 410.2,447.0zM417.3,456.0 416.7,456.6 415.8,456.8 415.4,456.5 415.7,456.1 416.6,455.8zM417.5,442.3 416.5,443.4 415.5,443.5 414.0,443.1 415.0,442.3 416.9,441.9zM409.7,453.4 409.1,454.3 407.5,455.4 407.3,454.7 407.4,454.1 408.6,453.3zM415.4,455.9 415.5,456.9 414.8,457.4 414.1,457.6 414.2,456.9 414.9,456.1zM399.4,450.6 399.3,451.4 398.9,451.9 398.4,452.0 398.4,451.6 399.0,450.8zM402.8,465.4 402.3,466.1 401.6,466.3 400.9,466.5 401.1,465.9 402.0,465.4zM402.6,463.7 402.3,464.1 401.6,464.4 401.4,464.3 401.5,464.0 402.0,463.8zM401.1,461.0 400.5,462.3 399.2,462.8 398.4,462.7 398.3,462.2 399.6,461.2zM407.8,464.4 407.7,465.1 407.1,466.1 406.6,466.2 406.5,465.4 407.0,464.3zM420.4,437.9 420.6,438.3 420.1,439.2 419.5,439.7 419.4,438.8 419.8,438.4zM433.2,438.1 433.4,438.8 432.7,439.6 431.9,440.1 432.0,439.1 432.5,438.4zM415.4,441.0 415.2,442.4 414.3,443.3 413.2,443.4 413.1,442.6 414.4,441.4zM426.3,446.1 426.4,446.7 425.4,447.6 424.1,447.9 424.8,446.7 425.5,446.2zM410.4,464.3 409.6,464.9 408.2,465.3 406.9,464.9 408.1,464.0 409.0,463.7zM411.4,456.7 411.0,457.3 410.4,457.5 409.3,457.3 409.9,456.8 410.8,456.5zM408.9,461.9 408.5,462.9 407.5,463.8 406.4,463.5 407.2,462.5 408.4,461.9zM401.0,468.4 400.9,468.8 400.3,469.2 399.9,469.2 400.0,468.8 400.6,468.5zM415.5,449.3 415.0,450.3 414.4,450.7 413.7,450.9 413.7,450.5 414.7,449.3zM424.7,445.8 424.4,446.3 423.4,446.6 422.7,446.4 423.0,445.9 424.2,445.3zM415.7,443.2 415.9,444.2 414.7,446.1 414.2,446.0 413.9,445.1 414.7,444.0zM403.7,456.3 403.7,456.9 403.0,457.7 401.9,457.7 402.2,456.7 403.2,455.9zM415.3,438.3 414.8,439.1 414.2,439.7 412.9,439.3 413.4,438.5 414.6,438.2zM435.1,446.1 435.0,446.5 433.8,447.0 433.4,446.9 433.2,446.4 434.4,446.0z" fill="#ff7f7f"/>
<path d="M406.4,448.7 406.6,448.0 407.0,447.5 407.4,447.3 407.5,447.9 407.1,448.6zM435.4,438.2 435.0,438.4 434.6,438.0 434.6,437.7 434.9,437.5 435.4,437.8zM426.6,444.9 426.5,444.7 426.5,444.0 426.9,443.8 427.3,444.2 427.2,444.5zM433.7,441.3 433.6,441.0 434.1,440.4 434.5,440.5 434.5,440.9 434.0,441.3zM431.4,438.8 431.2,438.1 431.3,437.4 431.6,437.3 432.0,437.9 431.7,438.4zM415.2,444.2 415.4,443.6 416.0,443.3 416.5,443.4 416.4,443.8 415.7,444.1zM413.7,444.7 413.0,444.7 412.5,444.3 412.4,443.5 413.1,443.8 413.7,444.2zM414.8,456.0 414.1,456.0 413.3,455.7 413.3,455.0 414.2,454.8 415.0,455.4zM429.9,440.4 429.7,440.3 429.6,439.8 429.8,439.3 430.2,439.7 430.3,440.1zM433.9,448.0 434.0,447.5 434.2,447.2 434.5,447.1 434.5,447.6 434.3,447.8zM401.3,469.3 401.0,469.3 400.6,468.9 400.7,468.5 401.1,468.6 401.3,468.9zM402.9,468.7 402.5,468.7 402.3,468.3 402.3,467.9 402.8,467.9 403.1,468.3zM440.5,442.0 440.1,442.3 439.5,441.4 439.4,440.6 440.1,440.7 440.9,441.1zM417.4,452.5 416.9,452.6 415.9,451.6 416.0,450.8 417.1,450.9 417.9,452.1z" fill="#005ce6"/>
<path d="M386.5,217.9 386.3,218.5 385.4,219.3 384.5,219.4 385.2,218.6 385.6,218.2zM404.2,197.6 404.1,198.3 403.3,198.7 402.7,198.8 402.8,198.2 403.8,197.6zM359.1,234.6 359.3,235.3 358.8,236.5 358.2,237.5 358.1,236.3 358.5,234.9zM409.1,196.0 408.5,196.7 406.5,197.4 405.4,197.3 405.6,196.6 407.5,196.0zM362.7,227.2 363.1,228.2 362.3,230.2 361.3,230.5 361.4,228.9 361.8,228.0zM351.8,241.9 351.5,243.2 350.8,244.6 349.5,245.5 349.6,244.8 350.2,242.9zM362.1,237.3 362.0,239.1 361.4,240.6 360.1,241.8 360.0,240.5 360.8,238.5zM356.9,245.8 356.6,246.7 355.5,247.9 354.0,248.0 354.9,246.8 355.8,246.1zM355.2,246.5 355.4,247.0 354.9,248.3 354.2,248.6 354.2,248.0 354.8,246.4zM357.2,241.1 356.6,241.8 355.9,242.0 355.0,241.8 355.5,241.3 356.3,240.8zM350.3,259.5 350.3,260.1 349.2,261.9 348.3,262.3 348.5,260.8 349.1,259.7zM351.1,249.6 351.2,250.4 350.0,252.1 348.8,252.3 348.6,251.7 349.9,250.0zM356.5,248.3 356.4,248.9 355.5,250.1 354.7,250.1 354.7,249.2 355.8,248.3zM380.8,218.8 381.0,219.3 380.7,220.2 380.0,220.8 380.0,219.9 380.2,219.2zM396.5,199.5 396.4,201.0 395.8,202.0 394.6,202.7 394.7,201.7 395.5,200.4zM359.3,234.7 359.3,235.8 358.6,237.1 357.9,236.9 357.9,236.1 358.7,235.3zM370.2,227.0 369.9,228.0 368.6,229.5 367.2,229.5 367.7,228.6 369.5,226.7zM353.3,244.8 352.3,245.9 351.0,246.7 350.7,246.4 350.9,245.8 352.0,245.1zM386.6,207.0 385.8,207.8 384.6,208.6 384.3,208.0 384.3,207.6 386.1,206.7zM376.1,220.0 376.5,220.8 375.4,223.1 374.4,223.5 374.4,222.4 375.0,220.9zM369.3,227.5 369.6,228.7 368.7,230.5 367.8,230.5 367.4,229.4 368.3,227.2zM362.3,239.3 361.8,240.2 360.6,241.3 359.5,241.4 359.6,240.6 360.8,239.8zM366.0,224.8 364.9,226.3 363.9,226.6 362.1,226.8 363.1,225.7 364.9,224.6zM389.6,211.9 389.0,213.0 387.2,214.5 386.4,214.4 385.9,213.6 387.8,212.5zM396.3,205.3 395.2,206.8 394.0,207.8 392.6,208.1 393.2,206.9 394.4,205.5zM397.5,207.9 397.7,208.7 397.2,209.7 396.7,209.7 396.5,209.0 397.0,208.3zM395.6,198.7 395.8,199.6 395.1,200.7 394.7,200.8 394.5,200.4 394.9,199.3zM358.3,238.3 358.9,238.6 357.6,241.2 356.5,242.1 356.3,239.9 357.6,238.4zM352.6,250.8 352.9,252.1 352.4,253.3 351.2,253.9 351.0,253.4 351.7,251.6zM385.6,211.8 385.8,212.8 385.6,213.7 384.6,214.3 384.7,213.3 384.9,212.3z" fill="#005ce6"/>
<path d="M403.2,199.0 403.0,199.5 402.4,199.8 401.9,199.6 402.0,199.3 402.8,198.9zM397.0,202.5 396.9,203.3 396.8,203.8 396.1,204.0 395.7,203.9 396.4,202.8zM385.4,212.2 385.2,213.1 384.5,213.6 383.5,213.6 383.8,212.9 384.5,212.2zM395.6,209.6 395.6,210.0 395.2,210.3 394.7,210.3 394.8,209.9 395.2,209.7zM348.5,255.8 348.4,256.4 347.9,256.9 347.3,256.9 347.3,256.5 348.2,255.8zM398.9,202.0 399.1,202.4 398.4,204.2 397.7,204.4 397.6,203.3 397.9,202.7zM396.2,198.5 395.9,199.3 394.9,199.9 394.0,199.8 394.1,199.0 395.8,198.1zM352.0,257.0 352.0,257.6 351.5,258.1 351.2,258.3 351.0,258.0 351.5,257.4zM349.0,253.4 348.9,253.9 348.7,254.4 348.3,254.8 348.2,254.2 348.3,253.7zM399.9,199.7 400.0,200.1 399.7,201.0 399.1,201.1 399.2,200.4 399.6,199.8zM346.4,259.6 346.3,259.9 345.7,260.3 345.4,260.1 345.5,259.7 346.0,259.4zM399.2,205.5 399.4,206.0 398.5,206.8 397.6,206.7 397.8,206.0 398.7,205.3z" fill="#d1ff73"/>
</g>
</g>
<g filter="url(#rg2)">
<polyline points="347.3,257.8 343.4,260.4 339.5,261.7 336.2,263.7 334.3,266.9 332.3,270.8 330.4,274.7 327.8,277.3 323.2,279.3 319.3,280.6 316.7,282.6 315.8,286.5 315.8,291.7 314.7,295.6 312.8,299.5 310.2,303.4 307.6,306.6" fill="none" stroke="#005ce6" stroke-width="1.5" stroke-linejoin="round" stroke-linecap="round"/>
<polyline points="327.1,276.7 329.7,274.7 331.7,271.5" fill="none" stroke="#ff7f7f" stroke-width="1.6" stroke-linejoin="round" stroke-linecap="round"/>
<polyline points="307.6,306.6 309.5,304.0 311.5,301.4" fill="none" stroke="#ff7f7f" stroke-width="1.8" stroke-linejoin="round" stroke-linecap="round"/>
<polyline points="307.5,305.9 310.1,303.7 312.1,302.0" fill="none" stroke="#ff7f7f" stroke-width="1.6" stroke-linejoin="round" stroke-linecap="round"/>
<polyline points="281.5,323.9 282.1,319.9 283.4,316.0" fill="none" stroke="#005ce6" stroke-width="1.4" stroke-linejoin="round" stroke-linecap="round"/>
</g>
</g></g>
<rect x="36.6" y="34.4" width="696.0" height="476.0" fill="none" stroke="#333" stroke-width="1"/>
<text class="g" x="65.9" y="27.6">420000<tspan class="gd" dx="1.2" dy="-1.6">.000000</tspan></text>
<text class="g" x="65.9" y="523.6">420000<tspan class="gd" dx="1.2" dy="-1.6">.000000</tspan></text>
<text class="g" x="165.4" y="27.6">430000<tspan class="gd" dx="1.2" dy="-1.6">.000000</tspan></text>
<text class="g" x="165.4" y="523.6">430000<tspan class="gd" dx="1.2" dy="-1.6">.000000</tspan></text>
<text class="g" x="264.9" y="27.6">440000<tspan class="gd" dx="1.2" dy="-1.6">.000000</tspan></text>
<text class="g" x="264.9" y="523.6">440000<tspan class="gd" dx="1.2" dy="-1.6">.000000</tspan></text>
<text class="g" x="364.5" y="27.6">450000<tspan class="gd" dx="1.2" dy="-1.6">.000000</tspan></text>
<text class="g" x="364.5" y="523.6">450000<tspan class="gd" dx="1.2" dy="-1.6">.000000</tspan></text>
<text class="g" x="464.0" y="27.6">460000<tspan class="gd" dx="1.2" dy="-1.6">.000000</tspan></text>
<text class="g" x="464.0" y="523.6">460000<tspan class="gd" dx="1.2" dy="-1.6">.000000</tspan></text>
<text class="g" x="563.5" y="27.6">470000<tspan class="gd" dx="1.2" dy="-1.6">.000000</tspan></text>
<text class="g" x="563.5" y="523.6">470000<tspan class="gd" dx="1.2" dy="-1.6">.000000</tspan></text>
<text class="g" x="663.0" y="27.6">480000<tspan class="gd" dx="1.2" dy="-1.6">.000000</tspan></text>
<text class="g" x="663.0" y="523.6">480000<tspan class="gd" dx="1.2" dy="-1.6">.000000</tspan></text>
<text class="g" transform="translate(29.9 109.9) rotate(-90)">3210000<tspan class="gd" dx="1.2" dy="-1.6">.000000</tspan></text>
<text class="g" transform="translate(745.1 109.9) rotate(-90)">3210000<tspan class="gd" dx="1.2" dy="-1.6">.000000</tspan></text>
<text class="g" transform="translate(29.9 209.5) rotate(-90)">3200000<tspan class="gd" dx="1.2" dy="-1.6">.000000</tspan></text>
<text class="g" transform="translate(745.1 209.5) rotate(-90)">3200000<tspan class="gd" dx="1.2" dy="-1.6">.000000</tspan></text>
<text class="g" transform="translate(29.9 309.1) rotate(-90)">3190000<tspan class="gd" dx="1.2" dy="-1.6">.000000</tspan></text>
<text class="g" transform="translate(745.1 309.1) rotate(-90)">3190000<tspan class="gd" dx="1.2" dy="-1.6">.000000</tspan></text>
<text class="g" transform="translate(29.9 408.7) rotate(-90)">3180000<tspan class="gd" dx="1.2" dy="-1.6">.000000</tspan></text>
<text class="g" transform="translate(745.1 408.7) rotate(-90)">3180000<tspan class="gd" dx="1.2" dy="-1.6">.000000</tspan></text>
<text class="g" transform="translate(29.9 508.3) rotate(-90)">3170000<tspan class="gd" dx="1.2" dy="-1.6">.000000</tspan></text>
<text class="g" transform="translate(745.1 508.3) rotate(-90)">3170000<tspan class="gd" dx="1.2" dy="-1.6">.000000</tspan></text>
<text class="s" x="38.6" y="50.30" font-size="7.28" fill="#111">Coordinate System: WGS 1984 UTM Zone 44N</text>
<text class="s" x="38.6" y="58.70" font-size="7.28" fill="#111">Projection: Transverse Mercator</text>
<text class="s" x="38.6" y="67.10" font-size="7.28" fill="#111">Datum: WGS 1984</text>
<text class="s" x="38.6" y="75.50" font-size="7.28" fill="#111">False Easting: 500,000.0000</text>
<text class="s" x="38.6" y="83.90" font-size="7.28" fill="#111">False Northing: 0.0000</text>
<text class="s" x="38.6" y="92.30" font-size="7.28" fill="#111">Central Meridian: 81.0000</text>
<text class="s" x="38.6" y="100.70" font-size="7.28" fill="#111">Scale Factor: 0.9996</text>
<text class="s" x="38.6" y="109.10" font-size="7.28" fill="#111">Latitude Of Origin: 0.0000</text>
<text class="s" x="38.6" y="117.50" font-size="7.28" fill="#111">Units: Meter</text>
<text class="s" x="198.9" y="59" font-size="14.57" fill="#111">Land Use Land Cover Map Of Laljhadi Protected Forest</text>
<text class="s" x="708.4" y="61.2" font-size="17" text-anchor="middle" fill="#000">N</text>
<path d="M708.6 65.6 L695.6 106.3 L708.6 91.1 Z" fill="#000" stroke="#000" stroke-width="0.6" stroke-linejoin="miter"/>
<path d="M708.6 65.6 L720.3 106.3 L708.6 91.1 Z" fill="#fff" stroke="#000" stroke-width="0.8" stroke-linejoin="miter"/>
<rect x="490.8" y="120.2" width="239.2" height="29.4" fill="#fff"/>
<rect x="490.8" y="120.2" width="239.2" height="14.2" fill="#d7e4bd"/>
<line x1="572.1" y1="120.2" x2="572.1" y2="134.4" stroke="#b9c4a0" stroke-width="0.6"/>
<line x1="572.1" y1="134.4" x2="572.1" y2="149.6" stroke="#ddd" stroke-width="0.6"/>
<line x1="622.9" y1="120.2" x2="622.9" y2="134.4" stroke="#b9c4a0" stroke-width="0.6"/>
<line x1="622.9" y1="134.4" x2="622.9" y2="149.6" stroke="#ddd" stroke-width="0.6"/>
<line x1="672.0" y1="120.2" x2="672.0" y2="134.4" stroke="#b9c4a0" stroke-width="0.6"/>
<line x1="672.0" y1="134.4" x2="672.0" y2="149.6" stroke="#ddd" stroke-width="0.6"/>
<line x1="490.8" y1="134.4" x2="730.0" y2="134.4" stroke="#333" stroke-width="0.9"/>
<rect x="490.8" y="120.2" width="239.2" height="29.4" fill="none" stroke="#333" stroke-width="0.9"/>
<text class="s" x="531.5" y="130.6" font-size="9.1" font-weight="bold" text-anchor="middle" fill="#222">Landsat Name</text>
<text class="s" x="531.5" y="145.5" font-size="9.4" text-anchor="middle" fill="#222">Landsat- 8 OLI</text>
<text class="s" x="597.5" y="130.6" font-size="9.1" font-weight="bold" text-anchor="middle" fill="#222">Path</text>
<text class="s" x="597.5" y="145.5" font-size="9.4" text-anchor="middle" fill="#222">144</text>
<text class="s" x="647.5" y="130.6" font-size="9.1" font-weight="bold" text-anchor="middle" fill="#222">Raw</text>
<text class="s" x="647.5" y="145.5" font-size="9.4" text-anchor="middle" fill="#222">40</text>
<text class="s" x="701.0" y="130.6" font-size="9.1" font-weight="bold" text-anchor="middle" fill="#222">Date</text>
<text class="s" x="701.0" y="145.5" font-size="9.4" text-anchor="middle" fill="#222">9/18/2018</text>
<rect x="471.7" y="384.8" width="256.5" height="77.6" fill="#fff"/>
<rect x="471.7" y="384.8" width="256.5" height="13.9" fill="#d7e4bd"/>
<line x1="576.7" y1="384.8" x2="576.7" y2="462.4" stroke="#ccc" stroke-width="0.6"/>
<line x1="471.7" y1="398.7" x2="728.2" y2="398.7" stroke="#333" stroke-width="0.9"/>
<line x1="471.7" y1="411.4" x2="728.2" y2="411.4" stroke="#333" stroke-width="0.9"/>
<line x1="471.7" y1="424.1" x2="728.2" y2="424.1" stroke="#333" stroke-width="0.9"/>
<line x1="471.7" y1="436.8" x2="728.2" y2="436.8" stroke="#333" stroke-width="0.9"/>
<line x1="471.7" y1="449.5" x2="728.2" y2="449.5" stroke="#333" stroke-width="0.9"/>
<rect x="471.7" y="384.8" width="256.5" height="77.6" fill="none" stroke="#333" stroke-width="0.9"/>
<text class="t" x="524.2" y="395.6" font-size="11.3" font-weight="bold" text-anchor="middle" fill="#111">LULC Class</text>
<text class="t" x="652.5" y="395.6" font-size="11.3" font-weight="bold" text-anchor="middle" fill="#111">Area (hectare)</text>
<text class="t" transform="translate(524.2 408.3) scale(0.93 1)" font-size="10.4" text-anchor="middle" fill="#222">Forest Land</text>
<text class="t" transform="translate(652.5 408.3) scale(0.93 1)" font-size="10.4" text-anchor="middle" fill="#222">23897.24</text>
<text class="t" transform="translate(524.2 421.0) scale(0.93 1)" font-size="10.4" text-anchor="middle" fill="#222">Agricultural Land</text>
<text class="t" transform="translate(652.5 421.0) scale(0.93 1)" font-size="10.4" text-anchor="middle" fill="#222">10344.47</text>
<text class="t" transform="translate(524.2 433.7) scale(0.93 1)" font-size="10.4" text-anchor="middle" fill="#222">Barren Land</text>
<text class="t" transform="translate(652.5 433.7) scale(0.93 1)" font-size="10.4" text-anchor="middle" fill="#222">1522.75</text>
<text class="t" transform="translate(524.2 446.4) scale(0.93 1)" font-size="10.4" text-anchor="middle" fill="#222">Water Bodies</text>
<text class="t" transform="translate(652.5 446.4) scale(0.93 1)" font-size="10.4" text-anchor="middle" fill="#222">1262.92</text>
<text class="t" transform="translate(524.2 459.1) scale(0.93 1)" font-size="10.4" text-anchor="middle" fill="#222">Total</text>
<text class="t" transform="translate(652.5 459.1) scale(0.93 1)" font-size="10.4" text-anchor="middle" fill="#222">37027.38</text>
<text class="t" x="42.8" y="420.4" font-size="13.8" font-weight="bold" fill="#111">Legend</text>
<rect x="42.5" y="430.9" width="28.4" height="13.8" fill="#38a800"/>
<text class="t" x="76.1" y="441.4" font-size="10.72" fill="#222">Forest land</text>
<rect x="42.5" y="450.0" width="28.4" height="13.8" fill="#d1ff73"/>
<text class="t" x="76.1" y="460.5" font-size="10.72" fill="#222">Agricultural land with Settlement</text>
<rect x="42.5" y="469.1" width="28.4" height="13.8" fill="#005ce6"/>
<text class="t" x="76.1" y="479.6" font-size="10.72" fill="#222">Water bodies</text>
<rect x="42.5" y="488.2" width="28.4" height="13.8" fill="#ff7f7f"/>
<text class="t" x="76.1" y="498.7" font-size="10.72" fill="#222">Barren land with Sand</text>
<polyline points="232.2,488.1 232.2,480.0 252.1,480.0 252.1,488.1 272.0,488.1 272.0,480.0 291.9,480.0 291.9,488.1 311.8,488.1 311.8,480.0 391.4,480.0 391.4,488.1 471.0,488.1 471.0,480.0 550.6,480.0 550.6,488.1" fill="none" stroke="#222" stroke-width="0.9"/>
<text class="s" x="232.2" y="500.4" font-size="9.6" text-anchor="middle" fill="#222">0</text>
<text class="s" x="272.0" y="500.4" font-size="9.6" text-anchor="middle" fill="#222">4,000</text>
<text class="s" x="311.8" y="500.4" font-size="9.6" text-anchor="middle" fill="#222">8,000</text>
<text class="s" x="391.4" y="500.4" font-size="9.6" text-anchor="middle" fill="#222">16,000</text>
<text class="s" x="471.0" y="500.4" font-size="9.6" text-anchor="middle" fill="#222">24,000</text>
<text class="s" x="550.6" y="500.4" font-size="9.6" text-anchor="middle" fill="#222">32,000</text>
<text class="s" x="553.6" y="489" font-size="9.6" fill="#222">Meters</text>
</svg></body></html>
